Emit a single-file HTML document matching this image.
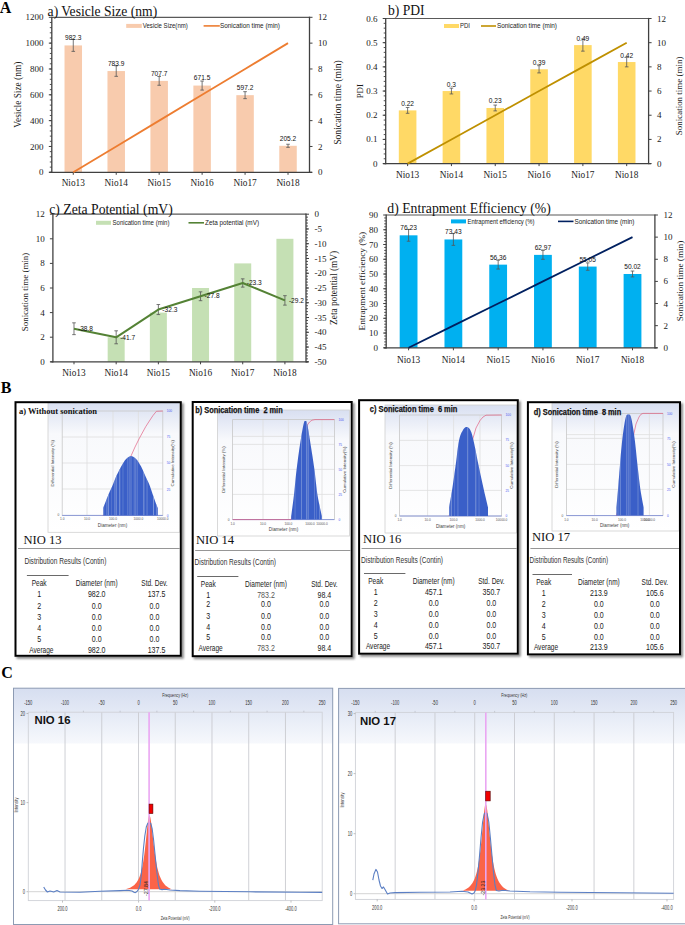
<!DOCTYPE html>
<html><head><meta charset="utf-8"><style>
html,body{margin:0;padding:0;background:#fff;}
body{width:685px;height:925px;overflow:hidden;position:relative;}
svg{position:absolute;left:0;top:0;}
</style></head><body>
<svg width="685" height="925" viewBox="0 0 685 925">
<defs>
<filter id="blur" x="-5%" y="-5%" width="110%" height="110%"><feGaussianBlur stdDeviation="1.2"/></filter>
<linearGradient id="dlsgrad" x1="0" y1="0" x2="0" y2="1">
<stop offset="0" stop-color="#d8dff1"/><stop offset="0.24" stop-color="#f8f9fc"/><stop offset="1" stop-color="#ffffff"/>
</linearGradient>
<linearGradient id="zgrad" x1="0" y1="0" x2="0" y2="1">
<stop offset="0" stop-color="#d6def0"/><stop offset="0.232" stop-color="#f6f8fc"/><stop offset="0.236" stop-color="#ffffff"/><stop offset="1" stop-color="#ffffff"/>
</linearGradient>
</defs>
<rect x="64.52" y="45.42" width="17.50" height="126.88" fill="#F8CBAD" />
<rect x="107.47" y="71.05" width="17.50" height="101.25" fill="#F8CBAD" />
<rect x="150.42" y="80.89" width="17.50" height="91.41" fill="#F8CBAD" />
<rect x="193.38" y="85.56" width="17.50" height="86.74" fill="#F8CBAD" />
<rect x="236.32" y="95.16" width="17.50" height="77.14" fill="#F8CBAD" />
<rect x="279.27" y="145.80" width="17.50" height="26.50" fill="#F8CBAD" />
<line x1="51.80" y1="17.30" x2="309.50" y2="17.30" stroke="#595959" stroke-width="1.2" />
<line x1="51.80" y1="16.70" x2="51.80" y2="172.90" stroke="#404040" stroke-width="1.3" />
<line x1="309.50" y1="16.70" x2="309.50" y2="172.90" stroke="#404040" stroke-width="1.3" />
<line x1="49.30" y1="172.30" x2="312.00" y2="172.30" stroke="#404040" stroke-width="1.3" />
<line x1="48.80" y1="172.30" x2="51.80" y2="172.30" stroke="#404040" stroke-width="1" />
<text x="43.60" y="175.36" font-size="9" font-family='"Liberation Serif", serif' fill="#222" text-anchor="end">0</text>
<line x1="48.80" y1="146.47" x2="51.80" y2="146.47" stroke="#404040" stroke-width="1" />
<text x="43.60" y="149.53" font-size="9" font-family='"Liberation Serif", serif' fill="#222" text-anchor="end">200</text>
<line x1="48.80" y1="120.63" x2="51.80" y2="120.63" stroke="#404040" stroke-width="1" />
<text x="43.60" y="123.69" font-size="9" font-family='"Liberation Serif", serif' fill="#222" text-anchor="end">400</text>
<line x1="48.80" y1="94.80" x2="51.80" y2="94.80" stroke="#404040" stroke-width="1" />
<text x="43.60" y="97.86" font-size="9" font-family='"Liberation Serif", serif' fill="#222" text-anchor="end">600</text>
<line x1="48.80" y1="68.97" x2="51.80" y2="68.97" stroke="#404040" stroke-width="1" />
<text x="43.60" y="72.03" font-size="9" font-family='"Liberation Serif", serif' fill="#222" text-anchor="end">800</text>
<line x1="48.80" y1="43.13" x2="51.80" y2="43.13" stroke="#404040" stroke-width="1" />
<text x="43.60" y="46.19" font-size="9" font-family='"Liberation Serif", serif' fill="#222" text-anchor="end">1000</text>
<line x1="48.80" y1="17.30" x2="51.80" y2="17.30" stroke="#404040" stroke-width="1" />
<text x="43.60" y="20.36" font-size="9" font-family='"Liberation Serif", serif' fill="#222" text-anchor="end">1200</text>
<line x1="49.80" y1="172.30" x2="51.80" y2="172.30" stroke="#404040" stroke-width="0.9" />
<line x1="49.80" y1="167.13" x2="51.80" y2="167.13" stroke="#404040" stroke-width="0.9" />
<line x1="49.80" y1="161.97" x2="51.80" y2="161.97" stroke="#404040" stroke-width="0.9" />
<line x1="49.80" y1="156.80" x2="51.80" y2="156.80" stroke="#404040" stroke-width="0.9" />
<line x1="49.80" y1="151.63" x2="51.80" y2="151.63" stroke="#404040" stroke-width="0.9" />
<line x1="49.80" y1="146.47" x2="51.80" y2="146.47" stroke="#404040" stroke-width="0.9" />
<line x1="49.80" y1="141.30" x2="51.80" y2="141.30" stroke="#404040" stroke-width="0.9" />
<line x1="49.80" y1="136.13" x2="51.80" y2="136.13" stroke="#404040" stroke-width="0.9" />
<line x1="49.80" y1="130.97" x2="51.80" y2="130.97" stroke="#404040" stroke-width="0.9" />
<line x1="49.80" y1="125.80" x2="51.80" y2="125.80" stroke="#404040" stroke-width="0.9" />
<line x1="49.80" y1="120.63" x2="51.80" y2="120.63" stroke="#404040" stroke-width="0.9" />
<line x1="49.80" y1="115.47" x2="51.80" y2="115.47" stroke="#404040" stroke-width="0.9" />
<line x1="49.80" y1="110.30" x2="51.80" y2="110.30" stroke="#404040" stroke-width="0.9" />
<line x1="49.80" y1="105.13" x2="51.80" y2="105.13" stroke="#404040" stroke-width="0.9" />
<line x1="49.80" y1="99.97" x2="51.80" y2="99.97" stroke="#404040" stroke-width="0.9" />
<line x1="49.80" y1="94.80" x2="51.80" y2="94.80" stroke="#404040" stroke-width="0.9" />
<line x1="49.80" y1="89.63" x2="51.80" y2="89.63" stroke="#404040" stroke-width="0.9" />
<line x1="49.80" y1="84.47" x2="51.80" y2="84.47" stroke="#404040" stroke-width="0.9" />
<line x1="49.80" y1="79.30" x2="51.80" y2="79.30" stroke="#404040" stroke-width="0.9" />
<line x1="49.80" y1="74.13" x2="51.80" y2="74.13" stroke="#404040" stroke-width="0.9" />
<line x1="49.80" y1="68.97" x2="51.80" y2="68.97" stroke="#404040" stroke-width="0.9" />
<line x1="49.80" y1="63.80" x2="51.80" y2="63.80" stroke="#404040" stroke-width="0.9" />
<line x1="49.80" y1="58.63" x2="51.80" y2="58.63" stroke="#404040" stroke-width="0.9" />
<line x1="49.80" y1="53.47" x2="51.80" y2="53.47" stroke="#404040" stroke-width="0.9" />
<line x1="49.80" y1="48.30" x2="51.80" y2="48.30" stroke="#404040" stroke-width="0.9" />
<line x1="49.80" y1="43.13" x2="51.80" y2="43.13" stroke="#404040" stroke-width="0.9" />
<line x1="49.80" y1="37.97" x2="51.80" y2="37.97" stroke="#404040" stroke-width="0.9" />
<line x1="49.80" y1="32.80" x2="51.80" y2="32.80" stroke="#404040" stroke-width="0.9" />
<line x1="49.80" y1="27.63" x2="51.80" y2="27.63" stroke="#404040" stroke-width="0.9" />
<line x1="49.80" y1="22.47" x2="51.80" y2="22.47" stroke="#404040" stroke-width="0.9" />
<line x1="309.50" y1="172.30" x2="312.50" y2="172.30" stroke="#404040" stroke-width="1" />
<text x="318.00" y="175.36" font-size="9" font-family='"Liberation Serif", serif' fill="#222">0</text>
<line x1="309.50" y1="146.47" x2="312.50" y2="146.47" stroke="#404040" stroke-width="1" />
<text x="318.00" y="149.53" font-size="9" font-family='"Liberation Serif", serif' fill="#222">2</text>
<line x1="309.50" y1="120.63" x2="312.50" y2="120.63" stroke="#404040" stroke-width="1" />
<text x="318.00" y="123.69" font-size="9" font-family='"Liberation Serif", serif' fill="#222">4</text>
<line x1="309.50" y1="94.80" x2="312.50" y2="94.80" stroke="#404040" stroke-width="1" />
<text x="318.00" y="97.86" font-size="9" font-family='"Liberation Serif", serif' fill="#222">6</text>
<line x1="309.50" y1="68.97" x2="312.50" y2="68.97" stroke="#404040" stroke-width="1" />
<text x="318.00" y="72.03" font-size="9" font-family='"Liberation Serif", serif' fill="#222">8</text>
<line x1="309.50" y1="43.13" x2="312.50" y2="43.13" stroke="#404040" stroke-width="1" />
<text x="318.00" y="46.19" font-size="9" font-family='"Liberation Serif", serif' fill="#222">10</text>
<line x1="309.50" y1="17.30" x2="312.50" y2="17.30" stroke="#404040" stroke-width="1" />
<text x="318.00" y="20.36" font-size="9" font-family='"Liberation Serif", serif' fill="#222">12</text>
<line x1="73.27" y1="172.30" x2="73.27" y2="174.80" stroke="#404040" stroke-width="1" />
<text x="73.27" y="185.80" font-size="9.3" font-family='"Liberation Serif", serif' fill="#222" text-anchor="middle">Nio13</text>
<line x1="116.22" y1="172.30" x2="116.22" y2="174.80" stroke="#404040" stroke-width="1" />
<text x="116.22" y="185.80" font-size="9.3" font-family='"Liberation Serif", serif' fill="#222" text-anchor="middle">Nio14</text>
<line x1="159.17" y1="172.30" x2="159.17" y2="174.80" stroke="#404040" stroke-width="1" />
<text x="159.17" y="185.80" font-size="9.3" font-family='"Liberation Serif", serif' fill="#222" text-anchor="middle">Nio15</text>
<line x1="202.12" y1="172.30" x2="202.12" y2="174.80" stroke="#404040" stroke-width="1" />
<text x="202.12" y="185.80" font-size="9.3" font-family='"Liberation Serif", serif' fill="#222" text-anchor="middle">Nio16</text>
<line x1="245.07" y1="172.30" x2="245.07" y2="174.80" stroke="#404040" stroke-width="1" />
<text x="245.07" y="185.80" font-size="9.3" font-family='"Liberation Serif", serif' fill="#222" text-anchor="middle">Nio17</text>
<line x1="288.02" y1="172.30" x2="288.02" y2="174.80" stroke="#404040" stroke-width="1" />
<text x="288.02" y="185.80" font-size="9.3" font-family='"Liberation Serif", serif' fill="#222" text-anchor="middle">Nio18</text>
<line x1="73.27" y1="39.48" x2="73.27" y2="51.36" stroke="#555" stroke-width="0.8" />
<line x1="71.47" y1="39.48" x2="75.07" y2="39.48" stroke="#555" stroke-width="0.8" />
<line x1="71.47" y1="51.36" x2="75.07" y2="51.36" stroke="#555" stroke-width="0.8" />
<line x1="116.22" y1="65.75" x2="116.22" y2="76.34" stroke="#555" stroke-width="0.8" />
<line x1="114.42" y1="65.75" x2="118.02" y2="65.75" stroke="#555" stroke-width="0.8" />
<line x1="114.42" y1="76.34" x2="118.02" y2="76.34" stroke="#555" stroke-width="0.8" />
<line x1="159.17" y1="76.50" x2="159.17" y2="85.28" stroke="#555" stroke-width="0.8" />
<line x1="157.37" y1="76.50" x2="160.97" y2="76.50" stroke="#555" stroke-width="0.8" />
<line x1="157.37" y1="85.28" x2="160.97" y2="85.28" stroke="#555" stroke-width="0.8" />
<line x1="202.12" y1="81.04" x2="202.12" y2="90.09" stroke="#555" stroke-width="0.8" />
<line x1="200.32" y1="81.04" x2="203.93" y2="81.04" stroke="#555" stroke-width="0.8" />
<line x1="200.32" y1="90.09" x2="203.93" y2="90.09" stroke="#555" stroke-width="0.8" />
<line x1="245.07" y1="91.67" x2="245.07" y2="98.65" stroke="#555" stroke-width="0.8" />
<line x1="243.27" y1="91.67" x2="246.88" y2="91.67" stroke="#555" stroke-width="0.8" />
<line x1="243.27" y1="98.65" x2="246.88" y2="98.65" stroke="#555" stroke-width="0.8" />
<line x1="288.02" y1="144.25" x2="288.02" y2="147.34" stroke="#555" stroke-width="0.8" />
<line x1="286.22" y1="144.25" x2="289.82" y2="144.25" stroke="#555" stroke-width="0.8" />
<line x1="286.22" y1="147.34" x2="289.82" y2="147.34" stroke="#555" stroke-width="0.8" />
<polyline points="73.27,172.30 116.22,146.47 159.17,120.63 202.12,94.80 245.07,68.97 288.02,43.13" fill="none" stroke="#ED7D31" stroke-width="1.8" stroke-linejoin="round"/>
<text x="73.27" y="40.22" font-size="6.6" font-family='"Liberation Sans", sans-serif' fill="#111" text-anchor="middle">982.3</text>
<text x="116.22" y="65.85" font-size="6.6" font-family='"Liberation Sans", sans-serif' fill="#111" text-anchor="middle">783.9</text>
<text x="159.17" y="75.69" font-size="6.6" font-family='"Liberation Sans", sans-serif' fill="#111" text-anchor="middle">707.7</text>
<text x="202.12" y="80.36" font-size="6.6" font-family='"Liberation Sans", sans-serif' fill="#111" text-anchor="middle">671.5</text>
<text x="245.07" y="89.96" font-size="6.6" font-family='"Liberation Sans", sans-serif' fill="#111" text-anchor="middle">597.2</text>
<text x="288.02" y="140.60" font-size="6.6" font-family='"Liberation Sans", sans-serif' fill="#111" text-anchor="middle">205.2</text>
<text x="47.60" y="15.90" font-size="13.6" font-family='"Liberation Serif", serif' fill="#111">a) Vesicle Size (nm)</text>
<text x="21.20" y="94.70" font-size="9.36" font-family='"Liberation Serif", serif' fill="#1a1a1a" text-anchor="middle" textLength="66" lengthAdjust="spacingAndGlyphs" transform="rotate(-90 21.20 94.70)">Vesicle Size (nm)</text>
<text x="341.00" y="102.50" font-size="9.64" font-family='"Liberation Serif", serif' fill="#1a1a1a" text-anchor="middle" textLength="84.6" lengthAdjust="spacingAndGlyphs" transform="rotate(-90 341.00 102.50)">Sonication time (min)</text>
<rect x="126.20" y="23.90" width="15.60" height="4.00" fill="#F8CBAD" />
<text x="142.80" y="28.10" font-size="6.4" font-family='"Liberation Sans", sans-serif' fill="#222" textLength="45" lengthAdjust="spacingAndGlyphs">Vesicle Size(nm)</text>
<line x1="203.60" y1="25.90" x2="219.80" y2="25.90" stroke="#ED7D31" stroke-width="1.6" />
<text x="220.00" y="28.10" font-size="6.4" font-family='"Liberation Sans", sans-serif' fill="#222" textLength="60" lengthAdjust="spacingAndGlyphs">Sonication time (min)</text>
<rect x="398.81" y="110.40" width="17.60" height="53.20" fill="#FFD966" />
<rect x="442.62" y="91.05" width="17.60" height="72.55" fill="#FFD966" />
<rect x="486.44" y="107.98" width="17.60" height="55.62" fill="#FFD966" />
<rect x="530.26" y="69.28" width="17.60" height="94.31" fill="#FFD966" />
<rect x="574.08" y="45.10" width="17.60" height="118.50" fill="#FFD966" />
<rect x="617.89" y="62.03" width="17.60" height="101.57" fill="#FFD966" />
<line x1="385.70" y1="18.50" x2="648.60" y2="18.50" stroke="#595959" stroke-width="1.2" />
<line x1="385.70" y1="17.90" x2="385.70" y2="164.20" stroke="#404040" stroke-width="1.3" />
<line x1="648.60" y1="17.90" x2="648.60" y2="164.20" stroke="#404040" stroke-width="1.3" />
<line x1="383.20" y1="163.60" x2="651.10" y2="163.60" stroke="#404040" stroke-width="1.3" />
<line x1="382.70" y1="163.60" x2="385.70" y2="163.60" stroke="#404040" stroke-width="1" />
<text x="377.50" y="166.66" font-size="9" font-family='"Liberation Serif", serif' fill="#222" text-anchor="end">0</text>
<line x1="382.70" y1="139.42" x2="385.70" y2="139.42" stroke="#404040" stroke-width="1" />
<text x="377.50" y="142.48" font-size="9" font-family='"Liberation Serif", serif' fill="#222" text-anchor="end">0.1</text>
<line x1="382.70" y1="115.23" x2="385.70" y2="115.23" stroke="#404040" stroke-width="1" />
<text x="377.50" y="118.29" font-size="9" font-family='"Liberation Serif", serif' fill="#222" text-anchor="end">0.2</text>
<line x1="382.70" y1="91.05" x2="385.70" y2="91.05" stroke="#404040" stroke-width="1" />
<text x="377.50" y="94.11" font-size="9" font-family='"Liberation Serif", serif' fill="#222" text-anchor="end">0.3</text>
<line x1="382.70" y1="66.87" x2="385.70" y2="66.87" stroke="#404040" stroke-width="1" />
<text x="377.50" y="69.93" font-size="9" font-family='"Liberation Serif", serif' fill="#222" text-anchor="end">0.4</text>
<line x1="382.70" y1="42.68" x2="385.70" y2="42.68" stroke="#404040" stroke-width="1" />
<text x="377.50" y="45.74" font-size="9" font-family='"Liberation Serif", serif' fill="#222" text-anchor="end">0.5</text>
<line x1="382.70" y1="18.50" x2="385.70" y2="18.50" stroke="#404040" stroke-width="1" />
<text x="377.50" y="21.56" font-size="9" font-family='"Liberation Serif", serif' fill="#222" text-anchor="end">0.6</text>
<line x1="383.70" y1="163.60" x2="385.70" y2="163.60" stroke="#404040" stroke-width="0.9" />
<line x1="383.70" y1="158.76" x2="385.70" y2="158.76" stroke="#404040" stroke-width="0.9" />
<line x1="383.70" y1="153.93" x2="385.70" y2="153.93" stroke="#404040" stroke-width="0.9" />
<line x1="383.70" y1="149.09" x2="385.70" y2="149.09" stroke="#404040" stroke-width="0.9" />
<line x1="383.70" y1="144.25" x2="385.70" y2="144.25" stroke="#404040" stroke-width="0.9" />
<line x1="383.70" y1="139.42" x2="385.70" y2="139.42" stroke="#404040" stroke-width="0.9" />
<line x1="383.70" y1="134.58" x2="385.70" y2="134.58" stroke="#404040" stroke-width="0.9" />
<line x1="383.70" y1="129.74" x2="385.70" y2="129.74" stroke="#404040" stroke-width="0.9" />
<line x1="383.70" y1="124.91" x2="385.70" y2="124.91" stroke="#404040" stroke-width="0.9" />
<line x1="383.70" y1="120.07" x2="385.70" y2="120.07" stroke="#404040" stroke-width="0.9" />
<line x1="383.70" y1="115.23" x2="385.70" y2="115.23" stroke="#404040" stroke-width="0.9" />
<line x1="383.70" y1="110.40" x2="385.70" y2="110.40" stroke="#404040" stroke-width="0.9" />
<line x1="383.70" y1="105.56" x2="385.70" y2="105.56" stroke="#404040" stroke-width="0.9" />
<line x1="383.70" y1="100.72" x2="385.70" y2="100.72" stroke="#404040" stroke-width="0.9" />
<line x1="383.70" y1="95.89" x2="385.70" y2="95.89" stroke="#404040" stroke-width="0.9" />
<line x1="383.70" y1="91.05" x2="385.70" y2="91.05" stroke="#404040" stroke-width="0.9" />
<line x1="383.70" y1="86.21" x2="385.70" y2="86.21" stroke="#404040" stroke-width="0.9" />
<line x1="383.70" y1="81.38" x2="385.70" y2="81.38" stroke="#404040" stroke-width="0.9" />
<line x1="383.70" y1="76.54" x2="385.70" y2="76.54" stroke="#404040" stroke-width="0.9" />
<line x1="383.70" y1="71.70" x2="385.70" y2="71.70" stroke="#404040" stroke-width="0.9" />
<line x1="383.70" y1="66.87" x2="385.70" y2="66.87" stroke="#404040" stroke-width="0.9" />
<line x1="383.70" y1="62.03" x2="385.70" y2="62.03" stroke="#404040" stroke-width="0.9" />
<line x1="383.70" y1="57.19" x2="385.70" y2="57.19" stroke="#404040" stroke-width="0.9" />
<line x1="383.70" y1="52.36" x2="385.70" y2="52.36" stroke="#404040" stroke-width="0.9" />
<line x1="383.70" y1="47.52" x2="385.70" y2="47.52" stroke="#404040" stroke-width="0.9" />
<line x1="383.70" y1="42.68" x2="385.70" y2="42.68" stroke="#404040" stroke-width="0.9" />
<line x1="383.70" y1="37.85" x2="385.70" y2="37.85" stroke="#404040" stroke-width="0.9" />
<line x1="383.70" y1="33.01" x2="385.70" y2="33.01" stroke="#404040" stroke-width="0.9" />
<line x1="383.70" y1="28.17" x2="385.70" y2="28.17" stroke="#404040" stroke-width="0.9" />
<line x1="383.70" y1="23.34" x2="385.70" y2="23.34" stroke="#404040" stroke-width="0.9" />
<line x1="648.60" y1="163.60" x2="651.60" y2="163.60" stroke="#404040" stroke-width="1" />
<text x="657.10" y="166.66" font-size="9" font-family='"Liberation Serif", serif' fill="#222">0</text>
<line x1="648.60" y1="139.42" x2="651.60" y2="139.42" stroke="#404040" stroke-width="1" />
<text x="657.10" y="142.48" font-size="9" font-family='"Liberation Serif", serif' fill="#222">2</text>
<line x1="648.60" y1="115.23" x2="651.60" y2="115.23" stroke="#404040" stroke-width="1" />
<text x="657.10" y="118.29" font-size="9" font-family='"Liberation Serif", serif' fill="#222">4</text>
<line x1="648.60" y1="91.05" x2="651.60" y2="91.05" stroke="#404040" stroke-width="1" />
<text x="657.10" y="94.11" font-size="9" font-family='"Liberation Serif", serif' fill="#222">6</text>
<line x1="648.60" y1="66.87" x2="651.60" y2="66.87" stroke="#404040" stroke-width="1" />
<text x="657.10" y="69.93" font-size="9" font-family='"Liberation Serif", serif' fill="#222">8</text>
<line x1="648.60" y1="42.68" x2="651.60" y2="42.68" stroke="#404040" stroke-width="1" />
<text x="657.10" y="45.74" font-size="9" font-family='"Liberation Serif", serif' fill="#222">10</text>
<line x1="648.60" y1="18.50" x2="651.60" y2="18.50" stroke="#404040" stroke-width="1" />
<text x="657.10" y="21.56" font-size="9" font-family='"Liberation Serif", serif' fill="#222">12</text>
<line x1="407.61" y1="163.60" x2="407.61" y2="166.10" stroke="#404040" stroke-width="1" />
<text x="407.61" y="177.50" font-size="9.3" font-family='"Liberation Serif", serif' fill="#222" text-anchor="middle">Nio13</text>
<line x1="451.43" y1="163.60" x2="451.43" y2="166.10" stroke="#404040" stroke-width="1" />
<text x="451.43" y="177.50" font-size="9.3" font-family='"Liberation Serif", serif' fill="#222" text-anchor="middle">Nio14</text>
<line x1="495.24" y1="163.60" x2="495.24" y2="166.10" stroke="#404040" stroke-width="1" />
<text x="495.24" y="177.50" font-size="9.3" font-family='"Liberation Serif", serif' fill="#222" text-anchor="middle">Nio15</text>
<line x1="539.06" y1="163.60" x2="539.06" y2="166.10" stroke="#404040" stroke-width="1" />
<text x="539.06" y="177.50" font-size="9.3" font-family='"Liberation Serif", serif' fill="#222" text-anchor="middle">Nio16</text>
<line x1="582.88" y1="163.60" x2="582.88" y2="166.10" stroke="#404040" stroke-width="1" />
<text x="582.88" y="177.50" font-size="9.3" font-family='"Liberation Serif", serif' fill="#222" text-anchor="middle">Nio17</text>
<line x1="626.69" y1="163.60" x2="626.69" y2="166.10" stroke="#404040" stroke-width="1" />
<text x="626.69" y="177.50" font-size="9.3" font-family='"Liberation Serif", serif' fill="#222" text-anchor="middle">Nio18</text>
<line x1="407.61" y1="107.49" x2="407.61" y2="113.30" stroke="#555" stroke-width="0.8" />
<line x1="405.81" y1="107.49" x2="409.41" y2="107.49" stroke="#555" stroke-width="0.8" />
<line x1="405.81" y1="113.30" x2="409.41" y2="113.30" stroke="#555" stroke-width="0.8" />
<line x1="451.43" y1="88.15" x2="451.43" y2="93.95" stroke="#555" stroke-width="0.8" />
<line x1="449.62" y1="88.15" x2="453.23" y2="88.15" stroke="#555" stroke-width="0.8" />
<line x1="449.62" y1="93.95" x2="453.23" y2="93.95" stroke="#555" stroke-width="0.8" />
<line x1="495.24" y1="105.08" x2="495.24" y2="110.88" stroke="#555" stroke-width="0.8" />
<line x1="493.44" y1="105.08" x2="497.04" y2="105.08" stroke="#555" stroke-width="0.8" />
<line x1="493.44" y1="110.88" x2="497.04" y2="110.88" stroke="#555" stroke-width="0.8" />
<line x1="539.06" y1="65.66" x2="539.06" y2="72.91" stroke="#555" stroke-width="0.8" />
<line x1="537.26" y1="65.66" x2="540.86" y2="65.66" stroke="#555" stroke-width="0.8" />
<line x1="537.26" y1="72.91" x2="540.86" y2="72.91" stroke="#555" stroke-width="0.8" />
<line x1="582.88" y1="39.06" x2="582.88" y2="51.15" stroke="#555" stroke-width="0.8" />
<line x1="581.08" y1="39.06" x2="584.67" y2="39.06" stroke="#555" stroke-width="0.8" />
<line x1="581.08" y1="51.15" x2="584.67" y2="51.15" stroke="#555" stroke-width="0.8" />
<line x1="626.69" y1="57.19" x2="626.69" y2="66.87" stroke="#555" stroke-width="0.8" />
<line x1="624.89" y1="57.19" x2="628.49" y2="57.19" stroke="#555" stroke-width="0.8" />
<line x1="624.89" y1="66.87" x2="628.49" y2="66.87" stroke="#555" stroke-width="0.8" />
<polyline points="407.61,163.60 451.43,139.42 495.24,115.23 539.06,91.05 582.88,66.87 626.69,42.68" fill="none" stroke="#BF9000" stroke-width="1.8" stroke-linejoin="round"/>
<text x="407.61" y="105.90" font-size="6.6" font-family='"Liberation Sans", sans-serif' fill="#111" text-anchor="middle">0.22</text>
<text x="451.43" y="86.55" font-size="6.6" font-family='"Liberation Sans", sans-serif' fill="#111" text-anchor="middle">0.3</text>
<text x="495.24" y="103.48" font-size="6.6" font-family='"Liberation Sans", sans-serif' fill="#111" text-anchor="middle">0.23</text>
<text x="539.06" y="64.78" font-size="6.6" font-family='"Liberation Sans", sans-serif' fill="#111" text-anchor="middle">0.39</text>
<text x="582.88" y="40.60" font-size="6.6" font-family='"Liberation Sans", sans-serif' fill="#111" text-anchor="middle">0.49</text>
<text x="626.69" y="57.53" font-size="6.6" font-family='"Liberation Sans", sans-serif' fill="#111" text-anchor="middle">0.42</text>
<text x="388.00" y="15.00" font-size="13.6" font-family='"Liberation Serif", serif' fill="#111">b) PDI</text>
<text x="362.70" y="91.20" font-size="8.87" font-family='"Liberation Serif", serif' fill="#1a1a1a" text-anchor="middle" textLength="14.3" lengthAdjust="spacingAndGlyphs" transform="rotate(-90 362.70 91.20)">PDI</text>
<text x="681.90" y="95.90" font-size="8.96" font-family='"Liberation Serif", serif' fill="#1a1a1a" text-anchor="middle" textLength="78.6" lengthAdjust="spacingAndGlyphs" transform="rotate(-90 681.90 95.90)">Sonication time (min)</text>
<rect x="444.00" y="24.00" width="15.00" height="4.00" fill="#FFD966" />
<text x="460.00" y="28.20" font-size="6.4" font-family='"Liberation Sans", sans-serif' fill="#222" textLength="10" lengthAdjust="spacingAndGlyphs">PDI</text>
<line x1="481.00" y1="26.00" x2="496.00" y2="26.00" stroke="#BF9000" stroke-width="1.6" />
<text x="497.00" y="28.20" font-size="6.4" font-family='"Liberation Sans", sans-serif' fill="#222" textLength="60" lengthAdjust="spacingAndGlyphs">Sonication time (min)</text>
<rect x="107.67" y="337.20" width="17.00" height="24.60" fill="#C5E0B4" />
<rect x="149.86" y="312.60" width="17.00" height="49.20" fill="#C5E0B4" />
<rect x="192.04" y="288.00" width="17.00" height="73.80" fill="#C5E0B4" />
<rect x="234.22" y="263.40" width="17.00" height="98.40" fill="#C5E0B4" />
<rect x="276.41" y="238.80" width="17.00" height="123.00" fill="#C5E0B4" />
<line x1="52.90" y1="214.20" x2="306.00" y2="214.20" stroke="#595959" stroke-width="1.2" />
<line x1="52.90" y1="213.60" x2="52.90" y2="362.40" stroke="#404040" stroke-width="1.3" />
<line x1="306.00" y1="213.60" x2="306.00" y2="362.40" stroke="#404040" stroke-width="1.3" />
<line x1="50.40" y1="361.80" x2="308.50" y2="361.80" stroke="#404040" stroke-width="1.3" />
<line x1="49.90" y1="361.80" x2="52.90" y2="361.80" stroke="#404040" stroke-width="1" />
<text x="44.70" y="364.86" font-size="9" font-family='"Liberation Serif", serif' fill="#222" text-anchor="end">0</text>
<line x1="49.90" y1="337.20" x2="52.90" y2="337.20" stroke="#404040" stroke-width="1" />
<text x="44.70" y="340.26" font-size="9" font-family='"Liberation Serif", serif' fill="#222" text-anchor="end">2</text>
<line x1="49.90" y1="312.60" x2="52.90" y2="312.60" stroke="#404040" stroke-width="1" />
<text x="44.70" y="315.66" font-size="9" font-family='"Liberation Serif", serif' fill="#222" text-anchor="end">4</text>
<line x1="49.90" y1="288.00" x2="52.90" y2="288.00" stroke="#404040" stroke-width="1" />
<text x="44.70" y="291.06" font-size="9" font-family='"Liberation Serif", serif' fill="#222" text-anchor="end">6</text>
<line x1="49.90" y1="263.40" x2="52.90" y2="263.40" stroke="#404040" stroke-width="1" />
<text x="44.70" y="266.46" font-size="9" font-family='"Liberation Serif", serif' fill="#222" text-anchor="end">8</text>
<line x1="49.90" y1="238.80" x2="52.90" y2="238.80" stroke="#404040" stroke-width="1" />
<text x="44.70" y="241.86" font-size="9" font-family='"Liberation Serif", serif' fill="#222" text-anchor="end">10</text>
<line x1="49.90" y1="214.20" x2="52.90" y2="214.20" stroke="#404040" stroke-width="1" />
<text x="44.70" y="217.26" font-size="9" font-family='"Liberation Serif", serif' fill="#222" text-anchor="end">12</text>
<line x1="306.00" y1="361.80" x2="309.00" y2="361.80" stroke="#404040" stroke-width="1" />
<text x="314.50" y="364.86" font-size="9" font-family='"Liberation Serif", serif' fill="#222">-50</text>
<line x1="306.00" y1="347.04" x2="309.00" y2="347.04" stroke="#404040" stroke-width="1" />
<text x="314.50" y="350.10" font-size="9" font-family='"Liberation Serif", serif' fill="#222">-45</text>
<line x1="306.00" y1="332.28" x2="309.00" y2="332.28" stroke="#404040" stroke-width="1" />
<text x="314.50" y="335.34" font-size="9" font-family='"Liberation Serif", serif' fill="#222">-40</text>
<line x1="306.00" y1="317.52" x2="309.00" y2="317.52" stroke="#404040" stroke-width="1" />
<text x="314.50" y="320.58" font-size="9" font-family='"Liberation Serif", serif' fill="#222">-35</text>
<line x1="306.00" y1="302.76" x2="309.00" y2="302.76" stroke="#404040" stroke-width="1" />
<text x="314.50" y="305.82" font-size="9" font-family='"Liberation Serif", serif' fill="#222">-30</text>
<line x1="306.00" y1="288.00" x2="309.00" y2="288.00" stroke="#404040" stroke-width="1" />
<text x="314.50" y="291.06" font-size="9" font-family='"Liberation Serif", serif' fill="#222">-25</text>
<line x1="306.00" y1="273.24" x2="309.00" y2="273.24" stroke="#404040" stroke-width="1" />
<text x="314.50" y="276.30" font-size="9" font-family='"Liberation Serif", serif' fill="#222">-20</text>
<line x1="306.00" y1="258.48" x2="309.00" y2="258.48" stroke="#404040" stroke-width="1" />
<text x="314.50" y="261.54" font-size="9" font-family='"Liberation Serif", serif' fill="#222">-15</text>
<line x1="306.00" y1="243.72" x2="309.00" y2="243.72" stroke="#404040" stroke-width="1" />
<text x="314.50" y="246.78" font-size="9" font-family='"Liberation Serif", serif' fill="#222">-10</text>
<line x1="306.00" y1="228.96" x2="309.00" y2="228.96" stroke="#404040" stroke-width="1" />
<text x="314.50" y="232.02" font-size="9" font-family='"Liberation Serif", serif' fill="#222">-5</text>
<line x1="306.00" y1="214.20" x2="309.00" y2="214.20" stroke="#404040" stroke-width="1" />
<text x="314.50" y="217.26" font-size="9" font-family='"Liberation Serif", serif' fill="#222">0</text>
<line x1="306.00" y1="361.80" x2="308.00" y2="361.80" stroke="#404040" stroke-width="0.9" />
<line x1="306.00" y1="358.85" x2="308.00" y2="358.85" stroke="#404040" stroke-width="0.9" />
<line x1="306.00" y1="355.90" x2="308.00" y2="355.90" stroke="#404040" stroke-width="0.9" />
<line x1="306.00" y1="352.94" x2="308.00" y2="352.94" stroke="#404040" stroke-width="0.9" />
<line x1="306.00" y1="349.99" x2="308.00" y2="349.99" stroke="#404040" stroke-width="0.9" />
<line x1="306.00" y1="347.04" x2="308.00" y2="347.04" stroke="#404040" stroke-width="0.9" />
<line x1="306.00" y1="344.09" x2="308.00" y2="344.09" stroke="#404040" stroke-width="0.9" />
<line x1="306.00" y1="341.14" x2="308.00" y2="341.14" stroke="#404040" stroke-width="0.9" />
<line x1="306.00" y1="338.18" x2="308.00" y2="338.18" stroke="#404040" stroke-width="0.9" />
<line x1="306.00" y1="335.23" x2="308.00" y2="335.23" stroke="#404040" stroke-width="0.9" />
<line x1="306.00" y1="332.28" x2="308.00" y2="332.28" stroke="#404040" stroke-width="0.9" />
<line x1="306.00" y1="329.33" x2="308.00" y2="329.33" stroke="#404040" stroke-width="0.9" />
<line x1="306.00" y1="326.38" x2="308.00" y2="326.38" stroke="#404040" stroke-width="0.9" />
<line x1="306.00" y1="323.42" x2="308.00" y2="323.42" stroke="#404040" stroke-width="0.9" />
<line x1="306.00" y1="320.47" x2="308.00" y2="320.47" stroke="#404040" stroke-width="0.9" />
<line x1="306.00" y1="317.52" x2="308.00" y2="317.52" stroke="#404040" stroke-width="0.9" />
<line x1="306.00" y1="314.57" x2="308.00" y2="314.57" stroke="#404040" stroke-width="0.9" />
<line x1="306.00" y1="311.62" x2="308.00" y2="311.62" stroke="#404040" stroke-width="0.9" />
<line x1="306.00" y1="308.66" x2="308.00" y2="308.66" stroke="#404040" stroke-width="0.9" />
<line x1="306.00" y1="305.71" x2="308.00" y2="305.71" stroke="#404040" stroke-width="0.9" />
<line x1="306.00" y1="302.76" x2="308.00" y2="302.76" stroke="#404040" stroke-width="0.9" />
<line x1="306.00" y1="299.81" x2="308.00" y2="299.81" stroke="#404040" stroke-width="0.9" />
<line x1="306.00" y1="296.86" x2="308.00" y2="296.86" stroke="#404040" stroke-width="0.9" />
<line x1="306.00" y1="293.90" x2="308.00" y2="293.90" stroke="#404040" stroke-width="0.9" />
<line x1="306.00" y1="290.95" x2="308.00" y2="290.95" stroke="#404040" stroke-width="0.9" />
<line x1="306.00" y1="288.00" x2="308.00" y2="288.00" stroke="#404040" stroke-width="0.9" />
<line x1="306.00" y1="285.05" x2="308.00" y2="285.05" stroke="#404040" stroke-width="0.9" />
<line x1="306.00" y1="282.10" x2="308.00" y2="282.10" stroke="#404040" stroke-width="0.9" />
<line x1="306.00" y1="279.14" x2="308.00" y2="279.14" stroke="#404040" stroke-width="0.9" />
<line x1="306.00" y1="276.19" x2="308.00" y2="276.19" stroke="#404040" stroke-width="0.9" />
<line x1="306.00" y1="273.24" x2="308.00" y2="273.24" stroke="#404040" stroke-width="0.9" />
<line x1="306.00" y1="270.29" x2="308.00" y2="270.29" stroke="#404040" stroke-width="0.9" />
<line x1="306.00" y1="267.34" x2="308.00" y2="267.34" stroke="#404040" stroke-width="0.9" />
<line x1="306.00" y1="264.38" x2="308.00" y2="264.38" stroke="#404040" stroke-width="0.9" />
<line x1="306.00" y1="261.43" x2="308.00" y2="261.43" stroke="#404040" stroke-width="0.9" />
<line x1="306.00" y1="258.48" x2="308.00" y2="258.48" stroke="#404040" stroke-width="0.9" />
<line x1="306.00" y1="255.53" x2="308.00" y2="255.53" stroke="#404040" stroke-width="0.9" />
<line x1="306.00" y1="252.58" x2="308.00" y2="252.58" stroke="#404040" stroke-width="0.9" />
<line x1="306.00" y1="249.62" x2="308.00" y2="249.62" stroke="#404040" stroke-width="0.9" />
<line x1="306.00" y1="246.67" x2="308.00" y2="246.67" stroke="#404040" stroke-width="0.9" />
<line x1="306.00" y1="243.72" x2="308.00" y2="243.72" stroke="#404040" stroke-width="0.9" />
<line x1="306.00" y1="240.77" x2="308.00" y2="240.77" stroke="#404040" stroke-width="0.9" />
<line x1="306.00" y1="237.82" x2="308.00" y2="237.82" stroke="#404040" stroke-width="0.9" />
<line x1="306.00" y1="234.86" x2="308.00" y2="234.86" stroke="#404040" stroke-width="0.9" />
<line x1="306.00" y1="231.91" x2="308.00" y2="231.91" stroke="#404040" stroke-width="0.9" />
<line x1="306.00" y1="228.96" x2="308.00" y2="228.96" stroke="#404040" stroke-width="0.9" />
<line x1="306.00" y1="226.01" x2="308.00" y2="226.01" stroke="#404040" stroke-width="0.9" />
<line x1="306.00" y1="223.06" x2="308.00" y2="223.06" stroke="#404040" stroke-width="0.9" />
<line x1="306.00" y1="220.10" x2="308.00" y2="220.10" stroke="#404040" stroke-width="0.9" />
<line x1="306.00" y1="217.15" x2="308.00" y2="217.15" stroke="#404040" stroke-width="0.9" />
<line x1="73.99" y1="361.80" x2="73.99" y2="364.30" stroke="#404040" stroke-width="1" />
<text x="73.99" y="375.50" font-size="9.3" font-family='"Liberation Serif", serif' fill="#222" text-anchor="middle">Nio13</text>
<line x1="116.17" y1="361.80" x2="116.17" y2="364.30" stroke="#404040" stroke-width="1" />
<text x="116.17" y="375.50" font-size="9.3" font-family='"Liberation Serif", serif' fill="#222" text-anchor="middle">Nio14</text>
<line x1="158.36" y1="361.80" x2="158.36" y2="364.30" stroke="#404040" stroke-width="1" />
<text x="158.36" y="375.50" font-size="9.3" font-family='"Liberation Serif", serif' fill="#222" text-anchor="middle">Nio15</text>
<line x1="200.54" y1="361.80" x2="200.54" y2="364.30" stroke="#404040" stroke-width="1" />
<text x="200.54" y="375.50" font-size="9.3" font-family='"Liberation Serif", serif' fill="#222" text-anchor="middle">Nio16</text>
<line x1="242.72" y1="361.80" x2="242.72" y2="364.30" stroke="#404040" stroke-width="1" />
<text x="242.72" y="375.50" font-size="9.3" font-family='"Liberation Serif", serif' fill="#222" text-anchor="middle">Nio17</text>
<line x1="284.91" y1="361.80" x2="284.91" y2="364.30" stroke="#404040" stroke-width="1" />
<text x="284.91" y="375.50" font-size="9.3" font-family='"Liberation Serif", serif' fill="#222" text-anchor="middle">Nio18</text>
<line x1="73.99" y1="322.83" x2="73.99" y2="334.64" stroke="#555" stroke-width="0.8" />
<line x1="72.19" y1="322.83" x2="75.79" y2="322.83" stroke="#555" stroke-width="0.8" />
<line x1="72.19" y1="334.64" x2="75.79" y2="334.64" stroke="#555" stroke-width="0.8" />
<line x1="116.17" y1="330.80" x2="116.17" y2="343.79" stroke="#555" stroke-width="0.8" />
<line x1="114.37" y1="330.80" x2="117.97" y2="330.80" stroke="#555" stroke-width="0.8" />
<line x1="114.37" y1="343.79" x2="117.97" y2="343.79" stroke="#555" stroke-width="0.8" />
<line x1="158.36" y1="304.53" x2="158.36" y2="314.57" stroke="#555" stroke-width="0.8" />
<line x1="156.56" y1="304.53" x2="160.16" y2="304.53" stroke="#555" stroke-width="0.8" />
<line x1="156.56" y1="314.57" x2="160.16" y2="314.57" stroke="#555" stroke-width="0.8" />
<line x1="200.54" y1="291.84" x2="200.54" y2="300.69" stroke="#555" stroke-width="0.8" />
<line x1="198.74" y1="291.84" x2="202.34" y2="291.84" stroke="#555" stroke-width="0.8" />
<line x1="198.74" y1="300.69" x2="202.34" y2="300.69" stroke="#555" stroke-width="0.8" />
<line x1="242.72" y1="278.85" x2="242.72" y2="287.11" stroke="#555" stroke-width="0.8" />
<line x1="240.92" y1="278.85" x2="244.53" y2="278.85" stroke="#555" stroke-width="0.8" />
<line x1="240.92" y1="287.11" x2="244.53" y2="287.11" stroke="#555" stroke-width="0.8" />
<line x1="284.91" y1="295.68" x2="284.91" y2="305.12" stroke="#555" stroke-width="0.8" />
<line x1="283.11" y1="295.68" x2="286.71" y2="295.68" stroke="#555" stroke-width="0.8" />
<line x1="283.11" y1="305.12" x2="286.71" y2="305.12" stroke="#555" stroke-width="0.8" />
<polyline points="73.99,328.74 116.17,337.30 158.36,309.55 200.54,296.27 242.72,282.98 284.91,300.40" fill="none" stroke="#548235" stroke-width="2" stroke-linejoin="round"/>
<text x="77.99" y="330.94" font-size="6.6" font-family='"Liberation Sans", sans-serif' fill="#111">-38.8</text>
<text x="120.17" y="339.50" font-size="6.6" font-family='"Liberation Sans", sans-serif' fill="#111">-41.7</text>
<text x="162.36" y="311.75" font-size="6.6" font-family='"Liberation Sans", sans-serif' fill="#111">-32.3</text>
<text x="204.54" y="298.47" font-size="6.6" font-family='"Liberation Sans", sans-serif' fill="#111">-27.8</text>
<text x="246.72" y="285.18" font-size="6.6" font-family='"Liberation Sans", sans-serif' fill="#111">-23.3</text>
<text x="288.91" y="302.60" font-size="6.6" font-family='"Liberation Sans", sans-serif' fill="#111">-29.2</text>
<text x="49.30" y="213.70" font-size="14.5" font-family='"Liberation Serif", serif' fill="#111" textLength="123.4" lengthAdjust="spacingAndGlyphs">c) Zeta Potential (mV)</text>
<text x="28.00" y="292.00" font-size="8.96" font-family='"Liberation Serif", serif' fill="#1a1a1a" text-anchor="middle" textLength="78.6" lengthAdjust="spacingAndGlyphs" transform="rotate(-90 28.00 292.00)">Sonication time (min)</text>
<text x="337.10" y="287.90" font-size="9.33" font-family='"Liberation Serif", serif' fill="#1a1a1a" text-anchor="middle" textLength="74.1" lengthAdjust="spacingAndGlyphs" transform="rotate(-90 337.10 287.90)">Zeta potential (mV)</text>
<rect x="96.00" y="220.80" width="15.00" height="4.00" fill="#C5E0B4" />
<text x="112.50" y="225.00" font-size="6.4" font-family='"Liberation Sans", sans-serif' fill="#222" textLength="57" lengthAdjust="spacingAndGlyphs">Sonication time (min)</text>
<line x1="188.50" y1="222.80" x2="204.00" y2="222.80" stroke="#548235" stroke-width="1.6" />
<text x="205.00" y="225.00" font-size="6.4" font-family='"Liberation Sans", sans-serif' fill="#222" textLength="54" lengthAdjust="spacingAndGlyphs">Zeta potential (mV)</text>
<rect x="399.69" y="235.32" width="17.80" height="112.48" fill="#00B0F0" />
<rect x="444.48" y="239.45" width="17.80" height="108.35" fill="#00B0F0" />
<rect x="489.26" y="264.64" width="17.80" height="83.16" fill="#00B0F0" />
<rect x="534.04" y="254.88" width="17.80" height="92.92" fill="#00B0F0" />
<rect x="578.82" y="266.57" width="17.80" height="81.23" fill="#00B0F0" />
<rect x="623.61" y="273.99" width="17.80" height="73.81" fill="#00B0F0" />
<line x1="386.20" y1="215.00" x2="654.90" y2="215.00" stroke="#595959" stroke-width="1.2" />
<line x1="386.20" y1="214.40" x2="386.20" y2="348.40" stroke="#404040" stroke-width="1.3" />
<line x1="654.90" y1="214.40" x2="654.90" y2="348.40" stroke="#404040" stroke-width="1.3" />
<line x1="383.70" y1="347.80" x2="657.40" y2="347.80" stroke="#404040" stroke-width="1.3" />
<line x1="383.20" y1="347.80" x2="386.20" y2="347.80" stroke="#404040" stroke-width="1" />
<text x="378.00" y="350.86" font-size="9" font-family='"Liberation Serif", serif' fill="#222" text-anchor="end">0</text>
<line x1="383.20" y1="333.04" x2="386.20" y2="333.04" stroke="#404040" stroke-width="1" />
<text x="378.00" y="336.10" font-size="9" font-family='"Liberation Serif", serif' fill="#222" text-anchor="end">10</text>
<line x1="383.20" y1="318.29" x2="386.20" y2="318.29" stroke="#404040" stroke-width="1" />
<text x="378.00" y="321.35" font-size="9" font-family='"Liberation Serif", serif' fill="#222" text-anchor="end">20</text>
<line x1="383.20" y1="303.53" x2="386.20" y2="303.53" stroke="#404040" stroke-width="1" />
<text x="378.00" y="306.59" font-size="9" font-family='"Liberation Serif", serif' fill="#222" text-anchor="end">30</text>
<line x1="383.20" y1="288.78" x2="386.20" y2="288.78" stroke="#404040" stroke-width="1" />
<text x="378.00" y="291.84" font-size="9" font-family='"Liberation Serif", serif' fill="#222" text-anchor="end">40</text>
<line x1="383.20" y1="274.02" x2="386.20" y2="274.02" stroke="#404040" stroke-width="1" />
<text x="378.00" y="277.08" font-size="9" font-family='"Liberation Serif", serif' fill="#222" text-anchor="end">50</text>
<line x1="383.20" y1="259.27" x2="386.20" y2="259.27" stroke="#404040" stroke-width="1" />
<text x="378.00" y="262.33" font-size="9" font-family='"Liberation Serif", serif' fill="#222" text-anchor="end">60</text>
<line x1="383.20" y1="244.51" x2="386.20" y2="244.51" stroke="#404040" stroke-width="1" />
<text x="378.00" y="247.57" font-size="9" font-family='"Liberation Serif", serif' fill="#222" text-anchor="end">70</text>
<line x1="383.20" y1="229.76" x2="386.20" y2="229.76" stroke="#404040" stroke-width="1" />
<text x="378.00" y="232.82" font-size="9" font-family='"Liberation Serif", serif' fill="#222" text-anchor="end">80</text>
<line x1="383.20" y1="215.00" x2="386.20" y2="215.00" stroke="#404040" stroke-width="1" />
<text x="378.00" y="218.06" font-size="9" font-family='"Liberation Serif", serif' fill="#222" text-anchor="end">90</text>
<line x1="384.20" y1="347.80" x2="386.20" y2="347.80" stroke="#404040" stroke-width="0.9" />
<line x1="384.20" y1="344.85" x2="386.20" y2="344.85" stroke="#404040" stroke-width="0.9" />
<line x1="384.20" y1="341.90" x2="386.20" y2="341.90" stroke="#404040" stroke-width="0.9" />
<line x1="384.20" y1="338.95" x2="386.20" y2="338.95" stroke="#404040" stroke-width="0.9" />
<line x1="384.20" y1="336.00" x2="386.20" y2="336.00" stroke="#404040" stroke-width="0.9" />
<line x1="384.20" y1="333.04" x2="386.20" y2="333.04" stroke="#404040" stroke-width="0.9" />
<line x1="384.20" y1="330.09" x2="386.20" y2="330.09" stroke="#404040" stroke-width="0.9" />
<line x1="384.20" y1="327.14" x2="386.20" y2="327.14" stroke="#404040" stroke-width="0.9" />
<line x1="384.20" y1="324.19" x2="386.20" y2="324.19" stroke="#404040" stroke-width="0.9" />
<line x1="384.20" y1="321.24" x2="386.20" y2="321.24" stroke="#404040" stroke-width="0.9" />
<line x1="384.20" y1="318.29" x2="386.20" y2="318.29" stroke="#404040" stroke-width="0.9" />
<line x1="384.20" y1="315.34" x2="386.20" y2="315.34" stroke="#404040" stroke-width="0.9" />
<line x1="384.20" y1="312.39" x2="386.20" y2="312.39" stroke="#404040" stroke-width="0.9" />
<line x1="384.20" y1="309.44" x2="386.20" y2="309.44" stroke="#404040" stroke-width="0.9" />
<line x1="384.20" y1="306.48" x2="386.20" y2="306.48" stroke="#404040" stroke-width="0.9" />
<line x1="384.20" y1="303.53" x2="386.20" y2="303.53" stroke="#404040" stroke-width="0.9" />
<line x1="384.20" y1="300.58" x2="386.20" y2="300.58" stroke="#404040" stroke-width="0.9" />
<line x1="384.20" y1="297.63" x2="386.20" y2="297.63" stroke="#404040" stroke-width="0.9" />
<line x1="384.20" y1="294.68" x2="386.20" y2="294.68" stroke="#404040" stroke-width="0.9" />
<line x1="384.20" y1="291.73" x2="386.20" y2="291.73" stroke="#404040" stroke-width="0.9" />
<line x1="384.20" y1="288.78" x2="386.20" y2="288.78" stroke="#404040" stroke-width="0.9" />
<line x1="384.20" y1="285.83" x2="386.20" y2="285.83" stroke="#404040" stroke-width="0.9" />
<line x1="384.20" y1="282.88" x2="386.20" y2="282.88" stroke="#404040" stroke-width="0.9" />
<line x1="384.20" y1="279.92" x2="386.20" y2="279.92" stroke="#404040" stroke-width="0.9" />
<line x1="384.20" y1="276.97" x2="386.20" y2="276.97" stroke="#404040" stroke-width="0.9" />
<line x1="384.20" y1="274.02" x2="386.20" y2="274.02" stroke="#404040" stroke-width="0.9" />
<line x1="384.20" y1="271.07" x2="386.20" y2="271.07" stroke="#404040" stroke-width="0.9" />
<line x1="384.20" y1="268.12" x2="386.20" y2="268.12" stroke="#404040" stroke-width="0.9" />
<line x1="384.20" y1="265.17" x2="386.20" y2="265.17" stroke="#404040" stroke-width="0.9" />
<line x1="384.20" y1="262.22" x2="386.20" y2="262.22" stroke="#404040" stroke-width="0.9" />
<line x1="384.20" y1="259.27" x2="386.20" y2="259.27" stroke="#404040" stroke-width="0.9" />
<line x1="384.20" y1="256.32" x2="386.20" y2="256.32" stroke="#404040" stroke-width="0.9" />
<line x1="384.20" y1="253.36" x2="386.20" y2="253.36" stroke="#404040" stroke-width="0.9" />
<line x1="384.20" y1="250.41" x2="386.20" y2="250.41" stroke="#404040" stroke-width="0.9" />
<line x1="384.20" y1="247.46" x2="386.20" y2="247.46" stroke="#404040" stroke-width="0.9" />
<line x1="384.20" y1="244.51" x2="386.20" y2="244.51" stroke="#404040" stroke-width="0.9" />
<line x1="384.20" y1="241.56" x2="386.20" y2="241.56" stroke="#404040" stroke-width="0.9" />
<line x1="384.20" y1="238.61" x2="386.20" y2="238.61" stroke="#404040" stroke-width="0.9" />
<line x1="384.20" y1="235.66" x2="386.20" y2="235.66" stroke="#404040" stroke-width="0.9" />
<line x1="384.20" y1="232.71" x2="386.20" y2="232.71" stroke="#404040" stroke-width="0.9" />
<line x1="384.20" y1="229.76" x2="386.20" y2="229.76" stroke="#404040" stroke-width="0.9" />
<line x1="384.20" y1="226.80" x2="386.20" y2="226.80" stroke="#404040" stroke-width="0.9" />
<line x1="384.20" y1="223.85" x2="386.20" y2="223.85" stroke="#404040" stroke-width="0.9" />
<line x1="384.20" y1="220.90" x2="386.20" y2="220.90" stroke="#404040" stroke-width="0.9" />
<line x1="384.20" y1="217.95" x2="386.20" y2="217.95" stroke="#404040" stroke-width="0.9" />
<line x1="654.90" y1="347.80" x2="657.90" y2="347.80" stroke="#404040" stroke-width="1" />
<text x="663.40" y="350.86" font-size="9" font-family='"Liberation Serif", serif' fill="#222">0</text>
<line x1="654.90" y1="325.67" x2="657.90" y2="325.67" stroke="#404040" stroke-width="1" />
<text x="663.40" y="328.73" font-size="9" font-family='"Liberation Serif", serif' fill="#222">2</text>
<line x1="654.90" y1="303.53" x2="657.90" y2="303.53" stroke="#404040" stroke-width="1" />
<text x="663.40" y="306.59" font-size="9" font-family='"Liberation Serif", serif' fill="#222">4</text>
<line x1="654.90" y1="281.40" x2="657.90" y2="281.40" stroke="#404040" stroke-width="1" />
<text x="663.40" y="284.46" font-size="9" font-family='"Liberation Serif", serif' fill="#222">6</text>
<line x1="654.90" y1="259.27" x2="657.90" y2="259.27" stroke="#404040" stroke-width="1" />
<text x="663.40" y="262.33" font-size="9" font-family='"Liberation Serif", serif' fill="#222">8</text>
<line x1="654.90" y1="237.13" x2="657.90" y2="237.13" stroke="#404040" stroke-width="1" />
<text x="663.40" y="240.19" font-size="9" font-family='"Liberation Serif", serif' fill="#222">10</text>
<line x1="654.90" y1="215.00" x2="657.90" y2="215.00" stroke="#404040" stroke-width="1" />
<text x="663.40" y="218.06" font-size="9" font-family='"Liberation Serif", serif' fill="#222">12</text>
<line x1="408.59" y1="347.80" x2="408.59" y2="350.30" stroke="#404040" stroke-width="1" />
<text x="408.59" y="362.50" font-size="9.3" font-family='"Liberation Serif", serif' fill="#222" text-anchor="middle">Nio13</text>
<line x1="453.38" y1="347.80" x2="453.38" y2="350.30" stroke="#404040" stroke-width="1" />
<text x="453.38" y="362.50" font-size="9.3" font-family='"Liberation Serif", serif' fill="#222" text-anchor="middle">Nio14</text>
<line x1="498.16" y1="347.80" x2="498.16" y2="350.30" stroke="#404040" stroke-width="1" />
<text x="498.16" y="362.50" font-size="9.3" font-family='"Liberation Serif", serif' fill="#222" text-anchor="middle">Nio15</text>
<line x1="542.94" y1="347.80" x2="542.94" y2="350.30" stroke="#404040" stroke-width="1" />
<text x="542.94" y="362.50" font-size="9.3" font-family='"Liberation Serif", serif' fill="#222" text-anchor="middle">Nio16</text>
<line x1="587.72" y1="347.80" x2="587.72" y2="350.30" stroke="#404040" stroke-width="1" />
<text x="587.72" y="362.50" font-size="9.3" font-family='"Liberation Serif", serif' fill="#222" text-anchor="middle">Nio17</text>
<line x1="632.51" y1="347.80" x2="632.51" y2="350.30" stroke="#404040" stroke-width="1" />
<text x="632.51" y="362.50" font-size="9.3" font-family='"Liberation Serif", serif' fill="#222" text-anchor="middle">Nio18</text>
<line x1="408.59" y1="229.42" x2="408.59" y2="241.22" stroke="#555" stroke-width="0.8" />
<line x1="406.79" y1="229.42" x2="410.39" y2="229.42" stroke="#555" stroke-width="0.8" />
<line x1="406.79" y1="241.22" x2="410.39" y2="241.22" stroke="#555" stroke-width="0.8" />
<line x1="453.38" y1="233.55" x2="453.38" y2="245.35" stroke="#555" stroke-width="0.8" />
<line x1="451.57" y1="233.55" x2="455.18" y2="233.55" stroke="#555" stroke-width="0.8" />
<line x1="451.57" y1="245.35" x2="455.18" y2="245.35" stroke="#555" stroke-width="0.8" />
<line x1="498.16" y1="260.21" x2="498.16" y2="269.06" stroke="#555" stroke-width="0.8" />
<line x1="496.36" y1="260.21" x2="499.96" y2="260.21" stroke="#555" stroke-width="0.8" />
<line x1="496.36" y1="269.06" x2="499.96" y2="269.06" stroke="#555" stroke-width="0.8" />
<line x1="542.94" y1="250.46" x2="542.94" y2="259.31" stroke="#555" stroke-width="0.8" />
<line x1="541.14" y1="250.46" x2="544.74" y2="250.46" stroke="#555" stroke-width="0.8" />
<line x1="541.14" y1="259.31" x2="544.74" y2="259.31" stroke="#555" stroke-width="0.8" />
<line x1="587.72" y1="262.88" x2="587.72" y2="270.26" stroke="#555" stroke-width="0.8" />
<line x1="585.92" y1="262.88" x2="589.52" y2="262.88" stroke="#555" stroke-width="0.8" />
<line x1="585.92" y1="270.26" x2="589.52" y2="270.26" stroke="#555" stroke-width="0.8" />
<line x1="632.51" y1="271.04" x2="632.51" y2="276.94" stroke="#555" stroke-width="0.8" />
<line x1="630.71" y1="271.04" x2="634.31" y2="271.04" stroke="#555" stroke-width="0.8" />
<line x1="630.71" y1="276.94" x2="634.31" y2="276.94" stroke="#555" stroke-width="0.8" />
<polyline points="408.59,347.80 453.38,325.67 498.16,303.53 542.94,281.40 587.72,259.27 632.51,237.13" fill="none" stroke="#002060" stroke-width="1.8" stroke-linejoin="round"/>
<text x="408.59" y="230.32" font-size="6.6" font-family='"Liberation Sans", sans-serif' fill="#111" text-anchor="middle">76.23</text>
<text x="453.38" y="234.45" font-size="6.6" font-family='"Liberation Sans", sans-serif' fill="#111" text-anchor="middle">73.43</text>
<text x="498.16" y="259.64" font-size="6.6" font-family='"Liberation Sans", sans-serif' fill="#111" text-anchor="middle">56.36</text>
<text x="542.94" y="249.88" font-size="6.6" font-family='"Liberation Sans", sans-serif' fill="#111" text-anchor="middle">62.97</text>
<text x="587.72" y="261.57" font-size="6.6" font-family='"Liberation Sans", sans-serif' fill="#111" text-anchor="middle">55.05</text>
<text x="632.51" y="268.99" font-size="6.6" font-family='"Liberation Sans", sans-serif' fill="#111" text-anchor="middle">50.02</text>
<text x="387.30" y="213.40" font-size="14.3" font-family='"Liberation Serif", serif' fill="#111" textLength="163.5" lengthAdjust="spacingAndGlyphs">d) Entrapment Efficiency (%)</text>
<text x="364.90" y="281.20" font-size="9.26" font-family='"Liberation Serif", serif' fill="#1a1a1a" text-anchor="middle" textLength="98.6" lengthAdjust="spacingAndGlyphs" transform="rotate(-90 364.90 281.20)">Entrapment efficiency (%)</text>
<text x="682.50" y="281.00" font-size="9.17" font-family='"Liberation Serif", serif' fill="#1a1a1a" text-anchor="middle" textLength="80.5" lengthAdjust="spacingAndGlyphs" transform="rotate(-90 682.50 281.00)">Sonication time (min)</text>
<rect x="451.00" y="219.40" width="15.00" height="4.00" fill="#00B0F0" />
<text x="467.50" y="223.60" font-size="6.4" font-family='"Liberation Sans", sans-serif' fill="#222" textLength="67" lengthAdjust="spacingAndGlyphs">Entrapment efficiency (%)</text>
<line x1="558.00" y1="221.40" x2="573.50" y2="221.40" stroke="#002060" stroke-width="1.6" />
<text x="574.50" y="223.60" font-size="6.4" font-family='"Liberation Sans", sans-serif' fill="#222" textLength="60" lengthAdjust="spacingAndGlyphs">Sonication time (min)</text>
<text x="-0.30" y="12.60" font-size="16" font-family='"Liberation Serif", serif' fill="#000" font-weight="bold">A</text>
<text x="0.80" y="392.80" font-size="16" font-family='"Liberation Serif", serif' fill="#000" font-weight="bold">B</text>
<text x="1.20" y="678.30" font-size="16" font-family='"Liberation Serif", serif' fill="#000" font-weight="bold">C</text>
<rect x="16.50" y="403.20" width="167.30" height="255.60" fill="#000" opacity="0.45" filter="url(#blur)"/>
<rect x="14.50" y="401.20" width="167.30" height="255.60" fill="#fff" />
<rect x="48.00" y="402.50" width="131.70" height="129.80" fill="url(#dlsgrad)" stroke="#d0d0d0" stroke-width="0.8"/>
<line x1="87.00" y1="411.00" x2="87.00" y2="515.40" stroke="#dedede" stroke-width="0.8" />
<line x1="113.00" y1="411.00" x2="113.00" y2="515.40" stroke="#dedede" stroke-width="0.8" />
<line x1="138.40" y1="411.00" x2="138.40" y2="515.40" stroke="#dedede" stroke-width="0.8" />
<line x1="62.20" y1="437.00" x2="162.80" y2="437.00" stroke="#dedede" stroke-width="0.8" />
<line x1="62.20" y1="463.00" x2="162.80" y2="463.00" stroke="#dedede" stroke-width="0.8" />
<line x1="62.20" y1="489.00" x2="162.80" y2="489.00" stroke="#dedede" stroke-width="0.8" />
<rect x="62.20" y="411.00" width="100.60" height="104.40" fill="none" stroke="#c8c8c8" stroke-width="0.8"/>
<line x1="62.20" y1="515.40" x2="162.80" y2="515.40" stroke="#7a8ad8" stroke-width="0.8" />
<polyline points="102.90,515.40 115.00,500.00 124.00,480.00 131.00,456.00 135.00,447.00 139.50,438.00 145.80,426.50 150.00,420.00 153.00,415.50 156.40,411.30 162.80,411.00" fill="none" stroke="#e0557a" stroke-width="0.65"/>
<clipPath id="clip1"><polygon points="103.10,515.40 103.10,508.20 103.32,507.61 103.62,506.83 103.98,505.89 104.39,504.83 104.83,503.69 105.30,502.50 105.80,501.22 106.36,499.83 106.94,498.34 107.56,496.82 108.18,495.29 108.80,493.80 109.43,492.34 110.09,490.87 110.75,489.40 111.41,487.93 112.07,486.46 112.70,485.00 113.30,483.55 113.86,482.10 114.42,480.65 114.98,479.20 115.57,477.75 116.20,476.30 116.90,474.79 117.67,473.21 118.46,471.63 119.23,470.11 119.96,468.71 120.60,467.50 121.13,466.51 121.58,465.70 121.98,465.02 122.36,464.40 122.76,463.78 123.20,463.10 123.67,462.36 124.13,461.60 124.61,460.85 125.12,460.12 125.68,459.43 126.30,458.80 127.00,458.18 127.77,457.55 128.59,456.96 129.44,456.46 130.28,456.13 131.10,456.00 131.92,456.13 132.76,456.46 133.61,456.96 134.43,457.55 135.20,458.18 135.90,458.80 136.52,459.43 137.08,460.12 137.59,460.85 138.07,461.60 138.53,462.36 139.00,463.10 139.45,463.78 139.86,464.40 140.25,465.02 140.66,465.70 141.10,466.51 141.60,467.50 142.17,468.71 142.80,470.11 143.46,471.63 144.14,473.21 144.83,474.79 145.50,476.30 146.17,477.75 146.86,479.20 147.56,480.65 148.24,482.10 148.89,483.55 149.50,485.00 150.06,486.46 150.57,487.93 151.06,489.40 151.53,490.87 152.01,492.34 152.50,493.80 153.02,495.29 153.56,496.82 154.10,498.34 154.63,499.83 155.13,501.22 155.60,502.50 156.04,503.69 156.48,504.83 156.89,505.89 157.26,506.83 157.57,507.61 157.80,508.20 157.80,515.40"/></clipPath>
<polygon points="103.10,515.40 103.10,508.20 103.32,507.61 103.62,506.83 103.98,505.89 104.39,504.83 104.83,503.69 105.30,502.50 105.80,501.22 106.36,499.83 106.94,498.34 107.56,496.82 108.18,495.29 108.80,493.80 109.43,492.34 110.09,490.87 110.75,489.40 111.41,487.93 112.07,486.46 112.70,485.00 113.30,483.55 113.86,482.10 114.42,480.65 114.98,479.20 115.57,477.75 116.20,476.30 116.90,474.79 117.67,473.21 118.46,471.63 119.23,470.11 119.96,468.71 120.60,467.50 121.13,466.51 121.58,465.70 121.98,465.02 122.36,464.40 122.76,463.78 123.20,463.10 123.67,462.36 124.13,461.60 124.61,460.85 125.12,460.12 125.68,459.43 126.30,458.80 127.00,458.18 127.77,457.55 128.59,456.96 129.44,456.46 130.28,456.13 131.10,456.00 131.92,456.13 132.76,456.46 133.61,456.96 134.43,457.55 135.20,458.18 135.90,458.80 136.52,459.43 137.08,460.12 137.59,460.85 138.07,461.60 138.53,462.36 139.00,463.10 139.45,463.78 139.86,464.40 140.25,465.02 140.66,465.70 141.10,466.51 141.60,467.50 142.17,468.71 142.80,470.11 143.46,471.63 144.14,473.21 144.83,474.79 145.50,476.30 146.17,477.75 146.86,479.20 147.56,480.65 148.24,482.10 148.89,483.55 149.50,485.00 150.06,486.46 150.57,487.93 151.06,489.40 151.53,490.87 152.01,492.34 152.50,493.80 153.02,495.29 153.56,496.82 154.10,498.34 154.63,499.83 155.13,501.22 155.60,502.50 156.04,503.69 156.48,504.83 156.89,505.89 157.26,506.83 157.57,507.61 157.80,508.20 157.80,515.40" fill="#3a5fc8"/>
<g clip-path="url(#clip1)">
<line x1="103.70" y1="515.40" x2="103.70" y2="456.00" stroke="#9aaee0" stroke-width="0.82" opacity="0.85"/>
<line x1="106.91" y1="515.40" x2="106.91" y2="456.00" stroke="#9aaee0" stroke-width="0.65" opacity="0.85"/>
<line x1="108.52" y1="515.40" x2="108.52" y2="456.00" stroke="#9aaee0" stroke-width="0.73" opacity="0.85"/>
<line x1="111.73" y1="515.40" x2="111.73" y2="456.00" stroke="#9aaee0" stroke-width="0.41" opacity="0.85"/>
<line x1="114.94" y1="515.40" x2="114.94" y2="456.00" stroke="#9aaee0" stroke-width="0.78" opacity="0.85"/>
<line x1="116.55" y1="515.40" x2="116.55" y2="456.00" stroke="#9aaee0" stroke-width="0.62" opacity="0.85"/>
<line x1="119.76" y1="515.40" x2="119.76" y2="456.00" stroke="#9aaee0" stroke-width="0.87" opacity="0.85"/>
<line x1="122.97" y1="515.40" x2="122.97" y2="456.00" stroke="#9aaee0" stroke-width="0.41" opacity="0.85"/>
<line x1="127.79" y1="515.40" x2="127.79" y2="456.00" stroke="#9aaee0" stroke-width="0.51" opacity="0.85"/>
<line x1="129.40" y1="515.40" x2="129.40" y2="456.00" stroke="#9aaee0" stroke-width="0.41" opacity="0.85"/>
<line x1="131.00" y1="515.40" x2="131.00" y2="456.00" stroke="#9aaee0" stroke-width="0.62" opacity="0.85"/>
<line x1="134.21" y1="515.40" x2="134.21" y2="456.00" stroke="#9aaee0" stroke-width="0.52" opacity="0.85"/>
<line x1="135.82" y1="515.40" x2="135.82" y2="456.00" stroke="#9aaee0" stroke-width="0.63" opacity="0.85"/>
<line x1="137.43" y1="515.40" x2="137.43" y2="456.00" stroke="#9aaee0" stroke-width="0.41" opacity="0.85"/>
<line x1="143.85" y1="515.40" x2="143.85" y2="456.00" stroke="#9aaee0" stroke-width="0.90" opacity="0.85"/>
<line x1="147.06" y1="515.40" x2="147.06" y2="456.00" stroke="#9aaee0" stroke-width="0.57" opacity="0.85"/>
<line x1="153.49" y1="515.40" x2="153.49" y2="456.00" stroke="#9aaee0" stroke-width="0.82" opacity="0.85"/>
<line x1="156.70" y1="515.40" x2="156.70" y2="456.00" stroke="#9aaee0" stroke-width="0.69" opacity="0.85"/>
</g>
<text x="62.20" y="520.40" font-size="3.2" font-family='"Liberation Sans", sans-serif' fill="#555" text-anchor="middle">1.0</text>
<text x="87.00" y="520.40" font-size="3.2" font-family='"Liberation Sans", sans-serif' fill="#555" text-anchor="middle">10.0</text>
<text x="113.00" y="520.40" font-size="3.2" font-family='"Liberation Sans", sans-serif' fill="#555" text-anchor="middle">100.0</text>
<text x="138.40" y="520.40" font-size="3.2" font-family='"Liberation Sans", sans-serif' fill="#555" text-anchor="middle">1000.0</text>
<text x="162.80" y="520.40" font-size="3.2" font-family='"Liberation Sans", sans-serif' fill="#555" text-anchor="middle">10000.0</text>
<text x="112.50" y="526.90" font-size="4.6" font-family='"Liberation Sans", sans-serif' fill="#444" text-anchor="middle">Diameter (nm)</text>
<text x="166.80" y="412.20" font-size="3.2" font-family='"Liberation Sans", sans-serif' fill="#4a5af0">100</text>
<text x="166.80" y="438.30" font-size="3.2" font-family='"Liberation Sans", sans-serif' fill="#4a5af0">75</text>
<text x="166.80" y="464.40" font-size="3.2" font-family='"Liberation Sans", sans-serif' fill="#4a5af0">50</text>
<text x="166.80" y="490.50" font-size="3.2" font-family='"Liberation Sans", sans-serif' fill="#4a5af0">25</text>
<text x="166.80" y="516.60" font-size="3.2" font-family='"Liberation Sans", sans-serif' fill="#4a5af0">0</text>
<text x="59.20" y="516.40" font-size="3.2" font-family='"Liberation Sans", sans-serif' fill="#555" text-anchor="end">0</text>
<text x="54.20" y="463.20" font-size="4.4" font-family='"Liberation Sans", sans-serif' fill="#444" text-anchor="middle" transform="rotate(-90 54.20 463.20)">Differential Intensity (%)</text>
<text x="174.30" y="463.20" font-size="4.4" font-family='"Liberation Sans", sans-serif' fill="#444" text-anchor="middle" transform="rotate(-90 174.30 463.20)">Cumulative Intensity(%)</text>
<rect x="15.50" y="402.20" width="165.30" height="253.60" fill="none" stroke="#000" stroke-width="2"/>
<text x="18.90" y="414.00" font-size="8.5" font-family='"Liberation Serif", serif' fill="#111" font-weight="bold">a) Without sonication</text>
<text x="23.40" y="543.60" font-size="12.6" font-family='"Liberation Serif", serif' fill="#111">NIO 13</text>
<line x1="18.00" y1="548.50" x2="179.80" y2="548.50" stroke="#8a8a8a" stroke-width="0.9" />
<text x="24.40" y="563.50" font-size="8.6" font-family='"Liberation Sans", sans-serif' fill="#333" textLength="82" lengthAdjust="spacingAndGlyphs">Distribution Results (Contin)</text>
<line x1="26.90" y1="575.50" x2="68.60" y2="575.50" stroke="#444" stroke-width="0.8" />
<text x="39.10" y="585.80" font-size="8.6" font-family='"Liberation Sans", sans-serif' fill="#222" text-anchor="middle" textLength="14.897995" lengthAdjust="spacingAndGlyphs">Peak</text>
<text x="96.70" y="585.80" font-size="8.6" font-family='"Liberation Sans", sans-serif' fill="#222" text-anchor="middle" textLength="41.764529375" lengthAdjust="spacingAndGlyphs">Diameter (nm)</text>
<text x="154.50" y="585.80" font-size="8.6" font-family='"Liberation Sans", sans-serif' fill="#222" text-anchor="middle" textLength="26.39624875" lengthAdjust="spacingAndGlyphs">Std. Dev.</text>
<text x="39.10" y="597.00" font-size="8.6" font-family='"Liberation Sans", sans-serif' fill="#222" text-anchor="middle" textLength="3.922124062499999" lengthAdjust="spacingAndGlyphs">1</text>
<text x="96.70" y="597.00" font-size="8.6" font-family='"Liberation Sans", sans-serif' fill="#222" text-anchor="middle" textLength="17.64763" lengthAdjust="spacingAndGlyphs">982.0</text>
<text x="156.50" y="597.00" font-size="8.6" font-family='"Liberation Sans", sans-serif' fill="#222" text-anchor="middle" textLength="17.64763" lengthAdjust="spacingAndGlyphs">137.5</text>
<text x="39.10" y="608.50" font-size="8.6" font-family='"Liberation Sans", sans-serif' fill="#222" text-anchor="middle" textLength="3.922124062499999" lengthAdjust="spacingAndGlyphs">2</text>
<text x="96.70" y="608.50" font-size="8.6" font-family='"Liberation Sans", sans-serif' fill="#222" text-anchor="middle" textLength="9.803381875" lengthAdjust="spacingAndGlyphs">0.0</text>
<text x="154.50" y="608.50" font-size="8.6" font-family='"Liberation Sans", sans-serif' fill="#222" text-anchor="middle" textLength="9.803381875" lengthAdjust="spacingAndGlyphs">0.0</text>
<text x="39.10" y="619.80" font-size="8.6" font-family='"Liberation Sans", sans-serif' fill="#222" text-anchor="middle" textLength="3.922124062499999" lengthAdjust="spacingAndGlyphs">3</text>
<text x="96.70" y="619.80" font-size="8.6" font-family='"Liberation Sans", sans-serif' fill="#222" text-anchor="middle" textLength="9.803381875" lengthAdjust="spacingAndGlyphs">0.0</text>
<text x="154.50" y="619.80" font-size="8.6" font-family='"Liberation Sans", sans-serif' fill="#222" text-anchor="middle" textLength="9.803381875" lengthAdjust="spacingAndGlyphs">0.0</text>
<text x="39.10" y="631.00" font-size="8.6" font-family='"Liberation Sans", sans-serif' fill="#222" text-anchor="middle" textLength="3.922124062499999" lengthAdjust="spacingAndGlyphs">4</text>
<text x="96.70" y="631.00" font-size="8.6" font-family='"Liberation Sans", sans-serif' fill="#222" text-anchor="middle" textLength="9.803381875" lengthAdjust="spacingAndGlyphs">0.0</text>
<text x="154.50" y="631.00" font-size="8.6" font-family='"Liberation Sans", sans-serif' fill="#222" text-anchor="middle" textLength="9.803381875" lengthAdjust="spacingAndGlyphs">0.0</text>
<text x="39.10" y="641.70" font-size="8.6" font-family='"Liberation Sans", sans-serif' fill="#222" text-anchor="middle" textLength="3.922124062499999" lengthAdjust="spacingAndGlyphs">5</text>
<text x="96.70" y="641.70" font-size="8.6" font-family='"Liberation Sans", sans-serif' fill="#222" text-anchor="middle" textLength="9.803381875" lengthAdjust="spacingAndGlyphs">0.0</text>
<text x="154.50" y="641.70" font-size="8.6" font-family='"Liberation Sans", sans-serif' fill="#222" text-anchor="middle" textLength="9.803381875" lengthAdjust="spacingAndGlyphs">0.0</text>
<text x="41.40" y="653.00" font-size="8.6" font-family='"Liberation Sans", sans-serif' fill="#222" text-anchor="middle" textLength="24.227113749999997" lengthAdjust="spacingAndGlyphs">Average</text>
<text x="96.70" y="653.00" font-size="8.6" font-family='"Liberation Sans", sans-serif' fill="#222" text-anchor="middle" textLength="17.64763" lengthAdjust="spacingAndGlyphs">982.0</text>
<text x="156.50" y="653.00" font-size="8.6" font-family='"Liberation Sans", sans-serif' fill="#222" text-anchor="middle" textLength="17.64763" lengthAdjust="spacingAndGlyphs">137.5</text>
<rect x="193.70" y="403.00" width="161.00" height="256.20" fill="#000" opacity="0.45" filter="url(#blur)"/>
<rect x="191.70" y="401.00" width="161.00" height="256.20" fill="#fff" />
<rect x="217.40" y="410.00" width="132.20" height="126.00" fill="url(#dlsgrad)" stroke="#d0d0d0" stroke-width="0.8"/>
<line x1="263.00" y1="419.60" x2="263.00" y2="519.60" stroke="#dedede" stroke-width="0.8" />
<line x1="288.40" y1="419.60" x2="288.40" y2="519.60" stroke="#dedede" stroke-width="0.8" />
<line x1="322.00" y1="419.60" x2="322.00" y2="519.60" stroke="#dedede" stroke-width="0.8" />
<line x1="232.60" y1="436.40" x2="334.40" y2="436.40" stroke="#dedede" stroke-width="0.8" />
<line x1="232.60" y1="444.40" x2="334.40" y2="444.40" stroke="#dedede" stroke-width="0.8" />
<line x1="232.60" y1="469.40" x2="334.40" y2="469.40" stroke="#dedede" stroke-width="0.8" />
<line x1="232.60" y1="494.40" x2="334.40" y2="494.40" stroke="#dedede" stroke-width="0.8" />
<rect x="232.60" y="419.60" width="101.80" height="100.00" fill="none" stroke="#c8c8c8" stroke-width="0.8"/>
<line x1="232.60" y1="519.60" x2="334.40" y2="519.60" stroke="#7a8ad8" stroke-width="0.8" />
<polyline points="232.60,519.60 291.00,519.60 298.00,500.00 302.00,470.00 305.00,440.00 307.40,425.00 309.50,422.00 312.00,420.20 315.00,419.60 334.40,419.60" fill="none" stroke="#e0557a" stroke-width="0.65"/>
<clipPath id="clip2"><polygon points="291.20,519.60 291.20,516.00 291.51,513.69 291.93,510.53 292.44,506.76 292.98,502.65 293.51,498.45 294.00,494.40 294.44,490.43 294.85,486.32 295.26,482.11 295.68,477.86 296.12,473.61 296.60,469.40 297.12,465.18 297.67,460.90 298.24,456.61 298.82,452.39 299.41,448.30 300.00,444.40 300.61,440.53 301.25,436.61 301.90,432.82 302.53,429.34 303.10,426.34 303.60,424.00 304.00,422.42 304.33,421.49 304.61,421.04 304.87,420.91 305.12,420.95 305.40,421.00 305.68,420.95 305.94,420.91 306.20,421.04 306.48,421.49 306.81,422.42 307.20,424.00 307.67,426.34 308.20,429.34 308.78,432.82 309.38,436.61 309.99,440.53 310.60,444.40 311.22,448.30 311.87,452.39 312.53,456.61 313.18,460.90 313.81,465.18 314.40,469.40 314.93,473.61 315.41,477.86 315.86,482.11 316.33,486.32 316.83,490.43 317.40,494.40 318.10,498.45 318.93,502.65 319.79,506.76 320.61,510.53 321.31,513.69 321.80,516.00 321.80,519.60"/></clipPath>
<polygon points="291.20,519.60 291.20,516.00 291.51,513.69 291.93,510.53 292.44,506.76 292.98,502.65 293.51,498.45 294.00,494.40 294.44,490.43 294.85,486.32 295.26,482.11 295.68,477.86 296.12,473.61 296.60,469.40 297.12,465.18 297.67,460.90 298.24,456.61 298.82,452.39 299.41,448.30 300.00,444.40 300.61,440.53 301.25,436.61 301.90,432.82 302.53,429.34 303.10,426.34 303.60,424.00 304.00,422.42 304.33,421.49 304.61,421.04 304.87,420.91 305.12,420.95 305.40,421.00 305.68,420.95 305.94,420.91 306.20,421.04 306.48,421.49 306.81,422.42 307.20,424.00 307.67,426.34 308.20,429.34 308.78,432.82 309.38,436.61 309.99,440.53 310.60,444.40 311.22,448.30 311.87,452.39 312.53,456.61 313.18,460.90 313.81,465.18 314.40,469.40 314.93,473.61 315.41,477.86 315.86,482.11 316.33,486.32 316.83,490.43 317.40,494.40 318.10,498.45 318.93,502.65 319.79,506.76 320.61,510.53 321.31,513.69 321.80,516.00 321.80,519.60" fill="#3a5fc8"/>
<g clip-path="url(#clip2)">
<line x1="295.08" y1="519.60" x2="295.08" y2="421.00" stroke="#9aaee0" stroke-width="0.44" opacity="0.85"/>
<line x1="301.61" y1="519.60" x2="301.61" y2="421.00" stroke="#9aaee0" stroke-width="0.70" opacity="0.85"/>
<line x1="306.50" y1="519.60" x2="306.50" y2="421.00" stroke="#9aaee0" stroke-width="0.62" opacity="0.85"/>
<line x1="308.13" y1="519.60" x2="308.13" y2="421.00" stroke="#9aaee0" stroke-width="0.76" opacity="0.85"/>
<line x1="314.66" y1="519.60" x2="314.66" y2="421.00" stroke="#9aaee0" stroke-width="0.53" opacity="0.85"/>
<line x1="316.29" y1="519.60" x2="316.29" y2="421.00" stroke="#9aaee0" stroke-width="0.41" opacity="0.85"/>
<line x1="319.55" y1="519.60" x2="319.55" y2="421.00" stroke="#9aaee0" stroke-width="0.59" opacity="0.85"/>
</g>
<text x="232.60" y="524.60" font-size="3.2" font-family='"Liberation Sans", sans-serif' fill="#555" text-anchor="middle">1.0</text>
<text x="263.00" y="524.60" font-size="3.2" font-family='"Liberation Sans", sans-serif' fill="#555" text-anchor="middle">10.0</text>
<text x="288.40" y="524.60" font-size="3.2" font-family='"Liberation Sans", sans-serif' fill="#555" text-anchor="middle">100.0</text>
<text x="310.00" y="524.60" font-size="3.2" font-family='"Liberation Sans", sans-serif' fill="#555" text-anchor="middle">1000.0</text>
<text x="322.00" y="524.60" font-size="3.2" font-family='"Liberation Sans", sans-serif' fill="#555" text-anchor="middle">10000.0</text>
<text x="283.50" y="531.10" font-size="4.6" font-family='"Liberation Sans", sans-serif' fill="#444" text-anchor="middle">Diameter (nm)</text>
<text x="338.40" y="420.80" font-size="3.2" font-family='"Liberation Sans", sans-serif' fill="#4a5af0">100</text>
<text x="338.40" y="445.80" font-size="3.2" font-family='"Liberation Sans", sans-serif' fill="#4a5af0">75</text>
<text x="338.40" y="470.80" font-size="3.2" font-family='"Liberation Sans", sans-serif' fill="#4a5af0">50</text>
<text x="338.40" y="495.80" font-size="3.2" font-family='"Liberation Sans", sans-serif' fill="#4a5af0">25</text>
<text x="338.40" y="520.80" font-size="3.2" font-family='"Liberation Sans", sans-serif' fill="#4a5af0">0</text>
<text x="229.60" y="520.60" font-size="3.2" font-family='"Liberation Sans", sans-serif' fill="#555" text-anchor="end">0</text>
<text x="224.60" y="469.60" font-size="4.4" font-family='"Liberation Sans", sans-serif' fill="#444" text-anchor="middle" transform="rotate(-90 224.60 469.60)">Differential Intensity (%)</text>
<text x="345.90" y="469.60" font-size="4.4" font-family='"Liberation Sans", sans-serif' fill="#444" text-anchor="middle" transform="rotate(-90 345.90 469.60)">Cumulative Intensity(%)</text>
<rect x="192.70" y="402.00" width="159.00" height="254.20" fill="none" stroke="#000" stroke-width="2"/>
<text x="195.20" y="413.30" font-size="9" font-family='"Liberation Sans", sans-serif' fill="#111" font-weight="bold" textLength="87.5" lengthAdjust="spacingAndGlyphs" stroke="#111" stroke-width="0.25">b) Sonication time&#160; 2 min</text>
<text x="196.00" y="543.70" font-size="12.6" font-family='"Liberation Serif", serif' fill="#111">NIO 14</text>
<line x1="195.20" y1="550.50" x2="350.70" y2="550.50" stroke="#8a8a8a" stroke-width="0.9" />
<text x="194.60" y="564.80" font-size="8.6" font-family='"Liberation Sans", sans-serif' fill="#333" textLength="81.4" lengthAdjust="spacingAndGlyphs">Distribution Results (Contin)</text>
<line x1="197.20" y1="576.50" x2="238.40" y2="576.50" stroke="#444" stroke-width="0.8" />
<text x="208.30" y="587.00" font-size="8.6" font-family='"Liberation Sans", sans-serif' fill="#222" text-anchor="middle" textLength="14.897995" lengthAdjust="spacingAndGlyphs">Peak</text>
<text x="266.00" y="587.00" font-size="8.6" font-family='"Liberation Sans", sans-serif' fill="#222" text-anchor="middle" textLength="41.764529375" lengthAdjust="spacingAndGlyphs">Diameter (nm)</text>
<text x="324.40" y="587.00" font-size="8.6" font-family='"Liberation Sans", sans-serif' fill="#222" text-anchor="middle" textLength="26.39624875" lengthAdjust="spacingAndGlyphs">Std. Dev.</text>
<text x="208.30" y="598.00" font-size="8.6" font-family='"Liberation Sans", sans-serif' fill="#222" text-anchor="middle" textLength="3.922124062499999" lengthAdjust="spacingAndGlyphs">1</text>
<text x="266.00" y="598.00" font-size="8.6" font-family='"Liberation Sans", sans-serif' fill="#555" text-anchor="middle" textLength="17.64763" lengthAdjust="spacingAndGlyphs">783.2</text>
<text x="324.40" y="598.00" font-size="8.6" font-family='"Liberation Sans", sans-serif' fill="#222" text-anchor="middle" textLength="13.7255059375" lengthAdjust="spacingAndGlyphs">98.4</text>
<text x="208.30" y="607.30" font-size="8.6" font-family='"Liberation Sans", sans-serif' fill="#222" text-anchor="middle" textLength="3.922124062499999" lengthAdjust="spacingAndGlyphs">2</text>
<text x="266.00" y="607.30" font-size="8.6" font-family='"Liberation Sans", sans-serif' fill="#222" text-anchor="middle" textLength="9.803381875" lengthAdjust="spacingAndGlyphs">0.0</text>
<text x="324.40" y="607.30" font-size="8.6" font-family='"Liberation Sans", sans-serif' fill="#222" text-anchor="middle" textLength="9.803381875" lengthAdjust="spacingAndGlyphs">0.0</text>
<text x="208.30" y="619.00" font-size="8.6" font-family='"Liberation Sans", sans-serif' fill="#222" text-anchor="middle" textLength="3.922124062499999" lengthAdjust="spacingAndGlyphs">3</text>
<text x="266.00" y="619.00" font-size="8.6" font-family='"Liberation Sans", sans-serif' fill="#222" text-anchor="middle" textLength="9.803381875" lengthAdjust="spacingAndGlyphs">0.0</text>
<text x="324.40" y="619.00" font-size="8.6" font-family='"Liberation Sans", sans-serif' fill="#222" text-anchor="middle" textLength="9.803381875" lengthAdjust="spacingAndGlyphs">0.0</text>
<text x="208.30" y="629.70" font-size="8.6" font-family='"Liberation Sans", sans-serif' fill="#222" text-anchor="middle" textLength="3.922124062499999" lengthAdjust="spacingAndGlyphs">4</text>
<text x="266.00" y="629.70" font-size="8.6" font-family='"Liberation Sans", sans-serif' fill="#222" text-anchor="middle" textLength="9.803381875" lengthAdjust="spacingAndGlyphs">0.0</text>
<text x="324.40" y="629.70" font-size="8.6" font-family='"Liberation Sans", sans-serif' fill="#222" text-anchor="middle" textLength="9.803381875" lengthAdjust="spacingAndGlyphs">0.0</text>
<text x="208.30" y="640.00" font-size="8.6" font-family='"Liberation Sans", sans-serif' fill="#222" text-anchor="middle" textLength="3.922124062499999" lengthAdjust="spacingAndGlyphs">5</text>
<text x="266.00" y="640.00" font-size="8.6" font-family='"Liberation Sans", sans-serif' fill="#222" text-anchor="middle" textLength="9.803381875" lengthAdjust="spacingAndGlyphs">0.0</text>
<text x="324.40" y="640.00" font-size="8.6" font-family='"Liberation Sans", sans-serif' fill="#222" text-anchor="middle" textLength="9.803381875" lengthAdjust="spacingAndGlyphs">0.0</text>
<text x="210.60" y="650.50" font-size="8.6" font-family='"Liberation Sans", sans-serif' fill="#222" text-anchor="middle" textLength="24.227113749999997" lengthAdjust="spacingAndGlyphs">Average</text>
<text x="266.00" y="650.50" font-size="8.6" font-family='"Liberation Sans", sans-serif' fill="#555" text-anchor="middle" textLength="17.64763" lengthAdjust="spacingAndGlyphs">783.2</text>
<text x="324.40" y="650.50" font-size="8.6" font-family='"Liberation Sans", sans-serif' fill="#222" text-anchor="middle" textLength="13.7255059375" lengthAdjust="spacingAndGlyphs">98.4</text>
<rect x="360.10" y="401.20" width="160.70" height="255.50" fill="#000" opacity="0.45" filter="url(#blur)"/>
<rect x="358.10" y="399.20" width="160.70" height="255.50" fill="#fff" />
<rect x="385.00" y="405.00" width="131.40" height="128.00" fill="url(#dlsgrad)" stroke="#d0d0d0" stroke-width="0.8"/>
<line x1="427.60" y1="415.00" x2="427.60" y2="516.00" stroke="#dedede" stroke-width="0.8" />
<line x1="453.60" y1="415.00" x2="453.60" y2="516.00" stroke="#dedede" stroke-width="0.8" />
<line x1="480.00" y1="415.00" x2="480.00" y2="516.00" stroke="#dedede" stroke-width="0.8" />
<line x1="399.60" y1="440.40" x2="501.60" y2="440.40" stroke="#dedede" stroke-width="0.8" />
<line x1="399.60" y1="465.60" x2="501.60" y2="465.60" stroke="#dedede" stroke-width="0.8" />
<line x1="399.60" y1="490.40" x2="501.60" y2="490.40" stroke="#dedede" stroke-width="0.8" />
<rect x="399.60" y="415.00" width="102.00" height="101.00" fill="none" stroke="#c8c8c8" stroke-width="0.8"/>
<line x1="399.60" y1="516.00" x2="501.60" y2="516.00" stroke="#7a8ad8" stroke-width="0.8" />
<polyline points="449.00,516.00 458.00,495.00 466.00,465.00 471.00,445.00 476.00,428.00 480.00,420.50 483.00,417.00 486.00,415.20 501.60,415.00" fill="none" stroke="#e0557a" stroke-width="0.65"/>
<clipPath id="clip3"><polygon points="449.00,516.00 449.00,507.50 449.32,505.73 449.76,503.35 450.28,500.50 450.84,497.30 451.43,493.89 452.00,490.40 452.57,486.72 453.16,482.72 453.77,478.51 454.39,474.18 455.00,469.85 455.60,465.60 456.17,461.25 456.73,456.68 457.28,452.10 457.83,447.72 458.40,443.75 459.00,440.40 459.64,437.72 460.30,435.56 460.99,433.81 461.67,432.37 462.35,431.13 463.00,430.00 463.62,429.00 464.23,428.23 464.82,427.66 465.41,427.28 466.00,427.07 466.60,427.00 467.22,427.07 467.84,427.28 468.48,427.66 469.10,428.23 469.71,429.00 470.30,430.00 470.84,431.13 471.33,432.37 471.81,433.81 472.31,435.56 472.86,437.72 473.50,440.40 474.24,443.75 475.05,447.72 475.91,452.10 476.81,456.68 477.71,461.25 478.60,465.60 479.50,469.85 480.43,474.18 481.37,478.51 482.29,482.72 483.18,486.72 484.00,490.40 484.79,493.89 485.59,497.30 486.34,500.50 487.01,503.35 487.58,505.73 488.00,507.50 488.00,516.00"/></clipPath>
<polygon points="449.00,516.00 449.00,507.50 449.32,505.73 449.76,503.35 450.28,500.50 450.84,497.30 451.43,493.89 452.00,490.40 452.57,486.72 453.16,482.72 453.77,478.51 454.39,474.18 455.00,469.85 455.60,465.60 456.17,461.25 456.73,456.68 457.28,452.10 457.83,447.72 458.40,443.75 459.00,440.40 459.64,437.72 460.30,435.56 460.99,433.81 461.67,432.37 462.35,431.13 463.00,430.00 463.62,429.00 464.23,428.23 464.82,427.66 465.41,427.28 466.00,427.07 466.60,427.00 467.22,427.07 467.84,427.28 468.48,427.66 469.10,428.23 469.71,429.00 470.30,430.00 470.84,431.13 471.33,432.37 471.81,433.81 472.31,435.56 472.86,437.72 473.50,440.40 474.24,443.75 475.05,447.72 475.91,452.10 476.81,456.68 477.71,461.25 478.60,465.60 479.50,469.85 480.43,474.18 481.37,478.51 482.29,482.72 483.18,486.72 484.00,490.40 484.79,493.89 485.59,497.30 486.34,500.50 487.01,503.35 487.58,505.73 488.00,507.50 488.00,516.00" fill="#3a5fc8"/>
<g clip-path="url(#clip3)">
<line x1="449.81" y1="516.00" x2="449.81" y2="427.00" stroke="#9aaee0" stroke-width="0.67" opacity="0.85"/>
<line x1="451.44" y1="516.00" x2="451.44" y2="427.00" stroke="#9aaee0" stroke-width="0.70" opacity="0.85"/>
<line x1="454.69" y1="516.00" x2="454.69" y2="427.00" stroke="#9aaee0" stroke-width="0.41" opacity="0.85"/>
<line x1="457.94" y1="516.00" x2="457.94" y2="427.00" stroke="#9aaee0" stroke-width="0.52" opacity="0.85"/>
<line x1="467.69" y1="516.00" x2="467.69" y2="427.00" stroke="#9aaee0" stroke-width="0.72" opacity="0.85"/>
<line x1="475.81" y1="516.00" x2="475.81" y2="427.00" stroke="#9aaee0" stroke-width="0.78" opacity="0.85"/>
<line x1="479.06" y1="516.00" x2="479.06" y2="427.00" stroke="#9aaee0" stroke-width="0.42" opacity="0.85"/>
</g>
<text x="399.60" y="521.00" font-size="3.2" font-family='"Liberation Sans", sans-serif' fill="#555" text-anchor="middle">1.0</text>
<text x="427.60" y="521.00" font-size="3.2" font-family='"Liberation Sans", sans-serif' fill="#555" text-anchor="middle">10.0</text>
<text x="453.60" y="521.00" font-size="3.2" font-family='"Liberation Sans", sans-serif' fill="#555" text-anchor="middle">100.0</text>
<text x="480.00" y="521.00" font-size="3.2" font-family='"Liberation Sans", sans-serif' fill="#555" text-anchor="middle">1000.0</text>
<text x="501.60" y="521.00" font-size="3.2" font-family='"Liberation Sans", sans-serif' fill="#555" text-anchor="middle">10000.0</text>
<text x="450.60" y="527.50" font-size="4.6" font-family='"Liberation Sans", sans-serif' fill="#444" text-anchor="middle">Diameter (nm)</text>
<text x="505.60" y="416.20" font-size="3.2" font-family='"Liberation Sans", sans-serif' fill="#4a5af0">100</text>
<text x="505.60" y="441.45" font-size="3.2" font-family='"Liberation Sans", sans-serif' fill="#4a5af0">75</text>
<text x="505.60" y="466.70" font-size="3.2" font-family='"Liberation Sans", sans-serif' fill="#4a5af0">50</text>
<text x="505.60" y="491.95" font-size="3.2" font-family='"Liberation Sans", sans-serif' fill="#4a5af0">25</text>
<text x="505.60" y="517.20" font-size="3.2" font-family='"Liberation Sans", sans-serif' fill="#4a5af0">0</text>
<text x="396.60" y="517.00" font-size="3.2" font-family='"Liberation Sans", sans-serif' fill="#555" text-anchor="end">0</text>
<text x="391.60" y="465.50" font-size="4.4" font-family='"Liberation Sans", sans-serif' fill="#444" text-anchor="middle" transform="rotate(-90 391.60 465.50)">Differential Intensity (%)</text>
<text x="513.10" y="465.50" font-size="4.4" font-family='"Liberation Sans", sans-serif' fill="#444" text-anchor="middle" transform="rotate(-90 513.10 465.50)">Cumulative Intensity(%)</text>
<rect x="359.10" y="400.20" width="158.70" height="253.50" fill="none" stroke="#000" stroke-width="2"/>
<text x="369.80" y="411.80" font-size="9" font-family='"Liberation Sans", sans-serif' fill="#111" font-weight="bold" textLength="87.5" lengthAdjust="spacingAndGlyphs" stroke="#111" stroke-width="0.25">c) Sonication time&#160; 6 min</text>
<text x="363.10" y="543.00" font-size="12.6" font-family='"Liberation Serif", serif' fill="#111">NIO 16</text>
<line x1="361.60" y1="548.50" x2="516.80" y2="548.50" stroke="#8a8a8a" stroke-width="0.9" />
<text x="361.00" y="562.70" font-size="8.6" font-family='"Liberation Sans", sans-serif' fill="#333" textLength="82" lengthAdjust="spacingAndGlyphs">Distribution Results (Contin)</text>
<line x1="364.00" y1="573.50" x2="405.40" y2="573.50" stroke="#444" stroke-width="0.8" />
<text x="375.70" y="584.00" font-size="8.6" font-family='"Liberation Sans", sans-serif' fill="#222" text-anchor="middle" textLength="14.897995" lengthAdjust="spacingAndGlyphs">Peak</text>
<text x="433.70" y="584.00" font-size="8.6" font-family='"Liberation Sans", sans-serif' fill="#222" text-anchor="middle" textLength="41.764529375" lengthAdjust="spacingAndGlyphs">Diameter (nm)</text>
<text x="491.40" y="584.00" font-size="8.6" font-family='"Liberation Sans", sans-serif' fill="#222" text-anchor="middle" textLength="26.39624875" lengthAdjust="spacingAndGlyphs">Std. Dev.</text>
<text x="375.70" y="595.00" font-size="8.6" font-family='"Liberation Sans", sans-serif' fill="#222" text-anchor="middle" textLength="3.922124062499999" lengthAdjust="spacingAndGlyphs">1</text>
<text x="433.70" y="595.00" font-size="8.6" font-family='"Liberation Sans", sans-serif' fill="#222" text-anchor="middle" textLength="17.64763" lengthAdjust="spacingAndGlyphs">457.1</text>
<text x="491.40" y="595.00" font-size="8.6" font-family='"Liberation Sans", sans-serif' fill="#222" text-anchor="middle" textLength="17.64763" lengthAdjust="spacingAndGlyphs">350.7</text>
<text x="375.70" y="606.00" font-size="8.6" font-family='"Liberation Sans", sans-serif' fill="#222" text-anchor="middle" textLength="3.922124062499999" lengthAdjust="spacingAndGlyphs">2</text>
<text x="433.70" y="606.00" font-size="8.6" font-family='"Liberation Sans", sans-serif' fill="#222" text-anchor="middle" textLength="9.803381875" lengthAdjust="spacingAndGlyphs">0.0</text>
<text x="491.40" y="606.00" font-size="8.6" font-family='"Liberation Sans", sans-serif' fill="#222" text-anchor="middle" textLength="9.803381875" lengthAdjust="spacingAndGlyphs">0.0</text>
<text x="375.70" y="617.00" font-size="8.6" font-family='"Liberation Sans", sans-serif' fill="#222" text-anchor="middle" textLength="3.922124062499999" lengthAdjust="spacingAndGlyphs">3</text>
<text x="433.70" y="617.00" font-size="8.6" font-family='"Liberation Sans", sans-serif' fill="#222" text-anchor="middle" textLength="9.803381875" lengthAdjust="spacingAndGlyphs">0.0</text>
<text x="491.40" y="617.00" font-size="8.6" font-family='"Liberation Sans", sans-serif' fill="#222" text-anchor="middle" textLength="9.803381875" lengthAdjust="spacingAndGlyphs">0.0</text>
<text x="375.70" y="628.00" font-size="8.6" font-family='"Liberation Sans", sans-serif' fill="#222" text-anchor="middle" textLength="3.922124062499999" lengthAdjust="spacingAndGlyphs">4</text>
<text x="433.70" y="628.00" font-size="8.6" font-family='"Liberation Sans", sans-serif' fill="#222" text-anchor="middle" textLength="9.803381875" lengthAdjust="spacingAndGlyphs">0.0</text>
<text x="491.40" y="628.00" font-size="8.6" font-family='"Liberation Sans", sans-serif' fill="#222" text-anchor="middle" textLength="9.803381875" lengthAdjust="spacingAndGlyphs">0.0</text>
<text x="375.70" y="639.00" font-size="8.6" font-family='"Liberation Sans", sans-serif' fill="#222" text-anchor="middle" textLength="3.922124062499999" lengthAdjust="spacingAndGlyphs">5</text>
<text x="433.70" y="639.00" font-size="8.6" font-family='"Liberation Sans", sans-serif' fill="#222" text-anchor="middle" textLength="9.803381875" lengthAdjust="spacingAndGlyphs">0.0</text>
<text x="491.40" y="639.00" font-size="8.6" font-family='"Liberation Sans", sans-serif' fill="#222" text-anchor="middle" textLength="9.803381875" lengthAdjust="spacingAndGlyphs">0.0</text>
<text x="378.00" y="649.30" font-size="8.6" font-family='"Liberation Sans", sans-serif' fill="#222" text-anchor="middle" textLength="24.227113749999997" lengthAdjust="spacingAndGlyphs">Average</text>
<text x="433.70" y="649.30" font-size="8.6" font-family='"Liberation Sans", sans-serif' fill="#222" text-anchor="middle" textLength="17.64763" lengthAdjust="spacingAndGlyphs">457.1</text>
<text x="491.40" y="649.30" font-size="8.6" font-family='"Liberation Sans", sans-serif' fill="#222" text-anchor="middle" textLength="17.64763" lengthAdjust="spacingAndGlyphs">350.7</text>
<rect x="528.90" y="403.20" width="154.10" height="254.20" fill="#000" opacity="0.45" filter="url(#blur)"/>
<rect x="526.90" y="401.20" width="154.10" height="254.20" fill="#fff" />
<rect x="552.00" y="403.00" width="127.00" height="128.00" fill="url(#dlsgrad)" stroke="#d0d0d0" stroke-width="0.8"/>
<line x1="594.60" y1="413.40" x2="594.60" y2="515.60" stroke="#dedede" stroke-width="0.8" />
<line x1="622.00" y1="413.40" x2="622.00" y2="515.60" stroke="#dedede" stroke-width="0.8" />
<line x1="649.40" y1="413.40" x2="649.40" y2="515.60" stroke="#dedede" stroke-width="0.8" />
<line x1="566.40" y1="434.60" x2="663.00" y2="434.60" stroke="#dedede" stroke-width="0.8" />
<line x1="566.40" y1="438.40" x2="663.00" y2="438.40" stroke="#dedede" stroke-width="0.8" />
<line x1="566.40" y1="464.40" x2="663.00" y2="464.40" stroke="#dedede" stroke-width="0.8" />
<line x1="566.40" y1="489.40" x2="663.00" y2="489.40" stroke="#dedede" stroke-width="0.8" />
<rect x="566.40" y="413.40" width="96.60" height="102.20" fill="none" stroke="#c8c8c8" stroke-width="0.8"/>
<line x1="566.40" y1="515.60" x2="663.00" y2="515.60" stroke="#7a8ad8" stroke-width="0.8" />
<polyline points="616.40,515.60 624.00,490.00 630.00,455.00 633.60,435.00 636.00,424.00 639.00,417.00 641.00,414.20 643.00,413.40 663.00,413.40" fill="none" stroke="#e0557a" stroke-width="0.65"/>
<clipPath id="clip4"><polygon points="616.40,515.60 616.40,507.50 616.57,505.61 616.80,503.06 617.07,500.01 617.38,496.61 617.69,493.03 618.00,489.40 618.31,485.64 618.62,481.61 618.95,477.39 619.29,473.06 619.64,468.70 620.00,464.40 620.37,460.06 620.74,455.60 621.12,451.11 621.53,446.69 621.95,442.42 622.40,438.40 622.89,434.48 623.42,430.56 623.97,426.80 624.53,423.35 625.08,420.36 625.60,418.00 626.09,416.34 626.56,415.29 627.02,414.70 627.48,414.44 627.94,414.39 628.40,414.40 628.86,414.39 629.31,414.44 629.76,414.70 630.22,415.29 630.70,416.34 631.20,418.00 631.74,420.36 632.31,423.35 632.90,426.80 633.49,430.56 634.06,434.48 634.60,438.40 635.10,442.42 635.57,446.69 636.03,451.11 636.47,455.60 636.93,460.06 637.40,464.40 637.89,468.70 638.38,473.06 638.87,477.39 639.38,481.61 639.89,485.64 640.40,489.40 640.96,493.03 641.57,496.61 642.19,500.01 642.76,503.06 643.25,505.61 643.60,507.50 643.60,515.60"/></clipPath>
<polygon points="616.40,515.60 616.40,507.50 616.57,505.61 616.80,503.06 617.07,500.01 617.38,496.61 617.69,493.03 618.00,489.40 618.31,485.64 618.62,481.61 618.95,477.39 619.29,473.06 619.64,468.70 620.00,464.40 620.37,460.06 620.74,455.60 621.12,451.11 621.53,446.69 621.95,442.42 622.40,438.40 622.89,434.48 623.42,430.56 623.97,426.80 624.53,423.35 625.08,420.36 625.60,418.00 626.09,416.34 626.56,415.29 627.02,414.70 627.48,414.44 627.94,414.39 628.40,414.40 628.86,414.39 629.31,414.44 629.76,414.70 630.22,415.29 630.70,416.34 631.20,418.00 631.74,420.36 632.31,423.35 632.90,426.80 633.49,430.56 634.06,434.48 634.60,438.40 635.10,442.42 635.57,446.69 636.03,451.11 636.47,455.60 636.93,460.06 637.40,464.40 637.89,468.70 638.38,473.06 638.87,477.39 639.38,481.61 639.89,485.64 640.40,489.40 640.96,493.03 641.57,496.61 642.19,500.01 642.76,503.06 643.25,505.61 643.60,507.50 643.60,515.60" fill="#3a5fc8"/>
<g clip-path="url(#clip4)">
<line x1="617.20" y1="515.60" x2="617.20" y2="414.40" stroke="#9aaee0" stroke-width="0.45" opacity="0.85"/>
<line x1="618.80" y1="515.60" x2="618.80" y2="414.40" stroke="#9aaee0" stroke-width="0.48" opacity="0.85"/>
<line x1="620.40" y1="515.60" x2="620.40" y2="414.40" stroke="#9aaee0" stroke-width="0.60" opacity="0.85"/>
<line x1="626.80" y1="515.60" x2="626.80" y2="414.40" stroke="#9aaee0" stroke-width="0.67" opacity="0.85"/>
<line x1="628.40" y1="515.60" x2="628.40" y2="414.40" stroke="#9aaee0" stroke-width="0.49" opacity="0.85"/>
<line x1="630.00" y1="515.60" x2="630.00" y2="414.40" stroke="#9aaee0" stroke-width="0.51" opacity="0.85"/>
<line x1="638.00" y1="515.60" x2="638.00" y2="414.40" stroke="#9aaee0" stroke-width="0.55" opacity="0.85"/>
</g>
<text x="566.40" y="520.60" font-size="3.2" font-family='"Liberation Sans", sans-serif' fill="#555" text-anchor="middle">1.0</text>
<text x="594.60" y="520.60" font-size="3.2" font-family='"Liberation Sans", sans-serif' fill="#555" text-anchor="middle">10.0</text>
<text x="622.00" y="520.60" font-size="3.2" font-family='"Liberation Sans", sans-serif' fill="#555" text-anchor="middle">100.0</text>
<text x="645.00" y="520.60" font-size="3.2" font-family='"Liberation Sans", sans-serif' fill="#555" text-anchor="middle">1000.0</text>
<text x="649.40" y="520.60" font-size="3.2" font-family='"Liberation Sans", sans-serif' fill="#555" text-anchor="middle">10000.0</text>
<text x="614.70" y="527.10" font-size="4.6" font-family='"Liberation Sans", sans-serif' fill="#444" text-anchor="middle">Diameter (nm)</text>
<text x="667.00" y="414.60" font-size="3.2" font-family='"Liberation Sans", sans-serif' fill="#4a5af0">100</text>
<text x="667.00" y="440.15" font-size="3.2" font-family='"Liberation Sans", sans-serif' fill="#4a5af0">75</text>
<text x="667.00" y="465.70" font-size="3.2" font-family='"Liberation Sans", sans-serif' fill="#4a5af0">50</text>
<text x="667.00" y="491.25" font-size="3.2" font-family='"Liberation Sans", sans-serif' fill="#4a5af0">25</text>
<text x="667.00" y="516.80" font-size="3.2" font-family='"Liberation Sans", sans-serif' fill="#4a5af0">0</text>
<text x="563.40" y="516.60" font-size="3.2" font-family='"Liberation Sans", sans-serif' fill="#555" text-anchor="end">0</text>
<text x="558.40" y="464.50" font-size="4.4" font-family='"Liberation Sans", sans-serif' fill="#444" text-anchor="middle" transform="rotate(-90 558.40 464.50)">Differential Intensity (%)</text>
<text x="674.50" y="464.50" font-size="4.4" font-family='"Liberation Sans", sans-serif' fill="#444" text-anchor="middle" transform="rotate(-90 674.50 464.50)">Cumulative Intensity(%)</text>
<rect x="527.90" y="402.20" width="152.10" height="252.20" fill="none" stroke="#000" stroke-width="2"/>
<text x="533.70" y="414.90" font-size="9" font-family='"Liberation Sans", sans-serif' fill="#111" font-weight="bold" textLength="87.5" lengthAdjust="spacingAndGlyphs" stroke="#111" stroke-width="0.25">d) Sonication time&#160; 8 min</text>
<text x="532.00" y="541.20" font-size="12.6" font-family='"Liberation Serif", serif' fill="#111">NIO 17</text>
<line x1="530.40" y1="548.50" x2="679.00" y2="548.50" stroke="#8a8a8a" stroke-width="0.9" />
<text x="529.60" y="562.60" font-size="8.6" font-family='"Liberation Sans", sans-serif' fill="#333" textLength="78.5" lengthAdjust="spacingAndGlyphs">Distribution Results (Contin)</text>
<line x1="532.50" y1="574.50" x2="572.00" y2="574.50" stroke="#444" stroke-width="0.8" />
<text x="543.70" y="584.50" font-size="8.6" font-family='"Liberation Sans", sans-serif' fill="#222" text-anchor="middle" textLength="14.897995" lengthAdjust="spacingAndGlyphs">Peak</text>
<text x="598.90" y="584.50" font-size="8.6" font-family='"Liberation Sans", sans-serif' fill="#222" text-anchor="middle" textLength="41.764529375" lengthAdjust="spacingAndGlyphs">Diameter (nm)</text>
<text x="654.80" y="584.50" font-size="8.6" font-family='"Liberation Sans", sans-serif' fill="#222" text-anchor="middle" textLength="26.39624875" lengthAdjust="spacingAndGlyphs">Std. Dev.</text>
<text x="543.70" y="596.00" font-size="8.6" font-family='"Liberation Sans", sans-serif' fill="#222" text-anchor="middle" textLength="3.922124062499999" lengthAdjust="spacingAndGlyphs">1</text>
<text x="598.90" y="596.00" font-size="8.6" font-family='"Liberation Sans", sans-serif' fill="#222" text-anchor="middle" textLength="17.64763" lengthAdjust="spacingAndGlyphs">213.9</text>
<text x="654.80" y="596.00" font-size="8.6" font-family='"Liberation Sans", sans-serif' fill="#222" text-anchor="middle" textLength="17.64763" lengthAdjust="spacingAndGlyphs">105.6</text>
<text x="543.70" y="606.50" font-size="8.6" font-family='"Liberation Sans", sans-serif' fill="#222" text-anchor="middle" textLength="3.922124062499999" lengthAdjust="spacingAndGlyphs">2</text>
<text x="598.90" y="606.50" font-size="8.6" font-family='"Liberation Sans", sans-serif' fill="#222" text-anchor="middle" textLength="9.803381875" lengthAdjust="spacingAndGlyphs">0.0</text>
<text x="654.80" y="606.50" font-size="8.6" font-family='"Liberation Sans", sans-serif' fill="#222" text-anchor="middle" textLength="9.803381875" lengthAdjust="spacingAndGlyphs">0.0</text>
<text x="543.70" y="618.00" font-size="8.6" font-family='"Liberation Sans", sans-serif' fill="#222" text-anchor="middle" textLength="3.922124062499999" lengthAdjust="spacingAndGlyphs">3</text>
<text x="598.90" y="618.00" font-size="8.6" font-family='"Liberation Sans", sans-serif' fill="#222" text-anchor="middle" textLength="9.803381875" lengthAdjust="spacingAndGlyphs">0.0</text>
<text x="654.80" y="618.00" font-size="8.6" font-family='"Liberation Sans", sans-serif' fill="#222" text-anchor="middle" textLength="9.803381875" lengthAdjust="spacingAndGlyphs">0.0</text>
<text x="543.70" y="629.00" font-size="8.6" font-family='"Liberation Sans", sans-serif' fill="#222" text-anchor="middle" textLength="3.922124062499999" lengthAdjust="spacingAndGlyphs">4</text>
<text x="598.90" y="629.00" font-size="8.6" font-family='"Liberation Sans", sans-serif' fill="#222" text-anchor="middle" textLength="9.803381875" lengthAdjust="spacingAndGlyphs">0.0</text>
<text x="654.80" y="629.00" font-size="8.6" font-family='"Liberation Sans", sans-serif' fill="#222" text-anchor="middle" textLength="9.803381875" lengthAdjust="spacingAndGlyphs">0.0</text>
<text x="543.70" y="639.50" font-size="8.6" font-family='"Liberation Sans", sans-serif' fill="#222" text-anchor="middle" textLength="3.922124062499999" lengthAdjust="spacingAndGlyphs">5</text>
<text x="598.90" y="639.50" font-size="8.6" font-family='"Liberation Sans", sans-serif' fill="#222" text-anchor="middle" textLength="9.803381875" lengthAdjust="spacingAndGlyphs">0.0</text>
<text x="654.80" y="639.50" font-size="8.6" font-family='"Liberation Sans", sans-serif' fill="#222" text-anchor="middle" textLength="9.803381875" lengthAdjust="spacingAndGlyphs">0.0</text>
<text x="546.00" y="650.00" font-size="8.6" font-family='"Liberation Sans", sans-serif' fill="#222" text-anchor="middle" textLength="24.227113749999997" lengthAdjust="spacingAndGlyphs">Average</text>
<text x="598.90" y="650.00" font-size="8.6" font-family='"Liberation Sans", sans-serif' fill="#222" text-anchor="middle" textLength="17.64763" lengthAdjust="spacingAndGlyphs">213.9</text>
<text x="654.80" y="650.00" font-size="8.6" font-family='"Liberation Sans", sans-serif' fill="#222" text-anchor="middle" textLength="17.64763" lengthAdjust="spacingAndGlyphs">105.6</text>
<rect x="13.50" y="688.20" width="319.20" height="236.30" fill="url(#zgrad)" stroke="#8d9bb3" stroke-width="1"/>
<line x1="65.04" y1="712.20" x2="65.04" y2="900.60" stroke="#c9cbd0" stroke-width="0.9" />
<line x1="101.77" y1="712.20" x2="101.77" y2="900.60" stroke="#c9cbd0" stroke-width="0.9" />
<line x1="138.51" y1="712.20" x2="138.51" y2="900.60" stroke="#c9cbd0" stroke-width="0.9" />
<line x1="175.25" y1="712.20" x2="175.25" y2="900.60" stroke="#c9cbd0" stroke-width="0.9" />
<line x1="211.99" y1="712.20" x2="211.99" y2="900.60" stroke="#c9cbd0" stroke-width="0.9" />
<line x1="248.72" y1="712.20" x2="248.72" y2="900.60" stroke="#c9cbd0" stroke-width="0.9" />
<line x1="285.46" y1="712.20" x2="285.46" y2="900.60" stroke="#c9cbd0" stroke-width="0.9" />
<rect x="28.30" y="712.20" width="293.90" height="188.40" fill="none" stroke="#cfd2d8" stroke-width="0.9"/>
<line x1="46.67" y1="710.70" x2="46.67" y2="712.20" stroke="#b0b4bc" stroke-width="0.6" />
<line x1="83.41" y1="710.70" x2="83.41" y2="712.20" stroke="#b0b4bc" stroke-width="0.6" />
<line x1="120.14" y1="710.70" x2="120.14" y2="712.20" stroke="#b0b4bc" stroke-width="0.6" />
<line x1="156.88" y1="710.70" x2="156.88" y2="712.20" stroke="#b0b4bc" stroke-width="0.6" />
<line x1="193.62" y1="710.70" x2="193.62" y2="712.20" stroke="#b0b4bc" stroke-width="0.6" />
<line x1="230.36" y1="710.70" x2="230.36" y2="712.20" stroke="#b0b4bc" stroke-width="0.6" />
<line x1="267.09" y1="710.70" x2="267.09" y2="712.20" stroke="#b0b4bc" stroke-width="0.6" />
<line x1="303.83" y1="710.70" x2="303.83" y2="712.20" stroke="#b0b4bc" stroke-width="0.6" />
<text x="28.30" y="705.20" font-size="6.8" font-family='"Liberation Sans", sans-serif' fill="#333" text-anchor="middle" textLength="8.166374999999999" lengthAdjust="spacingAndGlyphs">-150</text>
<text x="65.04" y="705.20" font-size="6.8" font-family='"Liberation Sans", sans-serif' fill="#333" text-anchor="middle" textLength="8.166374999999999" lengthAdjust="spacingAndGlyphs">-100</text>
<text x="101.77" y="705.20" font-size="6.8" font-family='"Liberation Sans", sans-serif' fill="#333" text-anchor="middle" textLength="5.89719375" lengthAdjust="spacingAndGlyphs">-50</text>
<text x="138.51" y="705.20" font-size="6.8" font-family='"Liberation Sans", sans-serif' fill="#333" text-anchor="middle" textLength="2.26918125" lengthAdjust="spacingAndGlyphs">0</text>
<text x="175.25" y="705.20" font-size="6.8" font-family='"Liberation Sans", sans-serif' fill="#333" text-anchor="middle" textLength="4.5383625" lengthAdjust="spacingAndGlyphs">50</text>
<text x="211.99" y="705.20" font-size="6.8" font-family='"Liberation Sans", sans-serif' fill="#333" text-anchor="middle" textLength="6.807543749999999" lengthAdjust="spacingAndGlyphs">100</text>
<text x="248.72" y="705.20" font-size="6.8" font-family='"Liberation Sans", sans-serif' fill="#333" text-anchor="middle" textLength="6.807543749999999" lengthAdjust="spacingAndGlyphs">150</text>
<text x="285.46" y="705.20" font-size="6.8" font-family='"Liberation Sans", sans-serif' fill="#333" text-anchor="middle" textLength="6.807543749999999" lengthAdjust="spacingAndGlyphs">200</text>
<text x="322.20" y="705.20" font-size="6.8" font-family='"Liberation Sans", sans-serif' fill="#333" text-anchor="middle" textLength="6.807543749999999" lengthAdjust="spacingAndGlyphs">250</text>
<text x="175.20" y="697.00" font-size="5.6" font-family='"Liberation Sans", sans-serif' fill="#333" text-anchor="middle" textLength="26" lengthAdjust="spacingAndGlyphs">Frequency (Hz)</text>
<text x="25.10" y="715.70" font-size="6.8" font-family='"Liberation Sans", sans-serif' fill="#333" text-anchor="end" textLength="4.5383625" lengthAdjust="spacingAndGlyphs">20</text>
<line x1="26.50" y1="713.50" x2="28.30" y2="713.50" stroke="#999" stroke-width="0.6" />
<text x="25.10" y="804.80" font-size="6.8" font-family='"Liberation Sans", sans-serif' fill="#333" text-anchor="end" textLength="4.5383625" lengthAdjust="spacingAndGlyphs">10</text>
<line x1="26.50" y1="802.60" x2="28.30" y2="802.60" stroke="#999" stroke-width="0.6" />
<text x="25.10" y="893.90" font-size="6.8" font-family='"Liberation Sans", sans-serif' fill="#333" text-anchor="end" textLength="2.26918125" lengthAdjust="spacingAndGlyphs">0</text>
<line x1="26.50" y1="891.70" x2="28.30" y2="891.70" stroke="#999" stroke-width="0.6" />
<line x1="28.30" y1="891.70" x2="322.20" y2="891.70" stroke="#d0d0d0" stroke-width="0.9" />
<text x="62.50" y="910.60" font-size="6.8" font-family='"Liberation Sans", sans-serif' fill="#333" text-anchor="middle" textLength="10.210199999999999" lengthAdjust="spacingAndGlyphs">200.0</text>
<line x1="62.50" y1="900.60" x2="62.50" y2="902.60" stroke="#999" stroke-width="0.6" />
<text x="138.60" y="910.60" font-size="6.8" font-family='"Liberation Sans", sans-serif' fill="#333" text-anchor="middle" textLength="5.6718375" lengthAdjust="spacingAndGlyphs">0.0</text>
<line x1="138.60" y1="900.60" x2="138.60" y2="902.60" stroke="#999" stroke-width="0.6" />
<text x="214.80" y="910.60" font-size="6.8" font-family='"Liberation Sans", sans-serif' fill="#333" text-anchor="middle" textLength="11.56903125" lengthAdjust="spacingAndGlyphs">-200.0</text>
<line x1="214.80" y1="900.60" x2="214.80" y2="902.60" stroke="#999" stroke-width="0.6" />
<text x="291.00" y="910.60" font-size="6.8" font-family='"Liberation Sans", sans-serif' fill="#333" text-anchor="middle" textLength="11.56903125" lengthAdjust="spacingAndGlyphs">-400.0</text>
<line x1="291.00" y1="900.60" x2="291.00" y2="902.60" stroke="#999" stroke-width="0.6" />
<text x="175.20" y="919.60" font-size="5.6" font-family='"Liberation Sans", sans-serif' fill="#333" text-anchor="middle" textLength="29" lengthAdjust="spacingAndGlyphs">Zeta Potential (mV)</text>
<text x="17.80" y="805.00" font-size="5.2" font-family='"Liberation Sans", sans-serif' fill="#333" text-anchor="middle" textLength="15" lengthAdjust="spacingAndGlyphs" transform="rotate(-90 17.80 805.00)">Intensity</text>
<polygon points="125.50,889.30 125.50,889.30 126.28,889.09 127.05,888.86 127.83,888.60 128.60,888.32 129.38,888.00 130.15,887.65 130.93,887.26 131.70,886.83 132.47,886.33 133.25,885.78 134.03,885.15 134.80,884.42 135.57,883.60 136.35,882.64 137.12,881.54 137.90,880.25 138.68,878.73 139.45,876.95 140.22,874.83 141.00,872.31 141.78,869.29 142.55,865.66 143.32,861.31 144.10,856.12 144.88,850.02 145.65,843.04 146.43,835.42 147.20,827.74 147.97,821.01 148.75,816.49 149.53,815.24 150.30,817.18 151.07,821.66 151.85,827.84 152.62,834.79 153.40,841.77 154.18,848.31 154.95,854.17 155.72,859.29 156.50,863.69 157.28,867.44 158.05,870.62 158.82,873.33 159.60,875.63 160.38,877.60 161.15,879.29 161.93,880.75 162.70,882.01 163.47,883.10 164.25,884.06 165.03,884.90 165.80,885.64 166.57,886.29 167.35,886.87 168.12,887.39 168.90,887.86 169.68,888.27 170.45,888.65 171.22,888.99 172.00,889.30 172.00,889.30" fill="#fb6448"/>
<polyline points="43.70,887.00 45.50,890.00 47.40,892.00 50.00,891.00 52.00,891.50 53.70,892.00 57.00,890.50 60.00,892.00 80.00,892.30 100.00,891.30 120.00,890.60 128.00,890.30 132.00,891.00 134.00,892.30 135.30,892.60 137.00,891.50 138.50,889.30 140.00,885.00 141.30,875.00 142.30,862.00 143.50,848.00 144.80,836.00 146.30,827.00 147.80,823.30 149.40,822.70 150.80,823.50 152.20,829.00 153.60,840.00 154.80,852.00 156.00,864.00 157.30,876.00 158.50,885.00 159.60,889.00 162.00,889.60 165.00,889.30 170.00,890.00 180.00,890.60 200.00,891.20 250.00,891.80 300.00,892.20 322.20,892.40" fill="none" stroke="#5b7fc4" stroke-width="1.1" stroke-linejoin="round"/>
<line x1="149.10" y1="712.20" x2="149.10" y2="900.60" stroke="#eaa6f2" stroke-width="1.6" />
<rect x="149.10" y="804.10" width="3.80" height="9.40" fill="#f00000" stroke="#500" stroke-width="0.6"/>
<text x="148.30" y="888.50" font-size="5.2" font-family='"Liberation Sans", sans-serif' fill="#222" text-anchor="middle" textLength="15" lengthAdjust="spacingAndGlyphs" transform="rotate(-90 148.30 888.50)">-27.84</text>
<text x="34.50" y="724.20" font-size="11.8" font-family='"Liberation Sans", sans-serif' fill="#111" font-weight="bold" textLength="36" lengthAdjust="spacingAndGlyphs">NIO 16</text>
<rect x="338.60" y="688.40" width="347.40" height="235.40" fill="url(#zgrad)" stroke="#8d9bb3" stroke-width="1"/>
<line x1="395.17" y1="712.40" x2="395.17" y2="899.40" stroke="#c9cbd0" stroke-width="0.9" />
<line x1="434.95" y1="712.40" x2="434.95" y2="899.40" stroke="#c9cbd0" stroke-width="0.9" />
<line x1="474.73" y1="712.40" x2="474.73" y2="899.40" stroke="#c9cbd0" stroke-width="0.9" />
<line x1="514.50" y1="712.40" x2="514.50" y2="899.40" stroke="#c9cbd0" stroke-width="0.9" />
<line x1="554.27" y1="712.40" x2="554.27" y2="899.40" stroke="#c9cbd0" stroke-width="0.9" />
<line x1="594.05" y1="712.40" x2="594.05" y2="899.40" stroke="#c9cbd0" stroke-width="0.9" />
<line x1="633.83" y1="712.40" x2="633.83" y2="899.40" stroke="#c9cbd0" stroke-width="0.9" />
<rect x="355.40" y="712.40" width="318.20" height="187.00" fill="none" stroke="#cfd2d8" stroke-width="0.9"/>
<line x1="375.29" y1="710.90" x2="375.29" y2="712.40" stroke="#b0b4bc" stroke-width="0.6" />
<line x1="415.06" y1="710.90" x2="415.06" y2="712.40" stroke="#b0b4bc" stroke-width="0.6" />
<line x1="454.84" y1="710.90" x2="454.84" y2="712.40" stroke="#b0b4bc" stroke-width="0.6" />
<line x1="494.61" y1="710.90" x2="494.61" y2="712.40" stroke="#b0b4bc" stroke-width="0.6" />
<line x1="534.39" y1="710.90" x2="534.39" y2="712.40" stroke="#b0b4bc" stroke-width="0.6" />
<line x1="574.16" y1="710.90" x2="574.16" y2="712.40" stroke="#b0b4bc" stroke-width="0.6" />
<line x1="613.94" y1="710.90" x2="613.94" y2="712.40" stroke="#b0b4bc" stroke-width="0.6" />
<line x1="653.71" y1="710.90" x2="653.71" y2="712.40" stroke="#b0b4bc" stroke-width="0.6" />
<text x="355.40" y="705.20" font-size="6.8" font-family='"Liberation Sans", sans-serif' fill="#333" text-anchor="middle" textLength="8.166374999999999" lengthAdjust="spacingAndGlyphs">-150</text>
<text x="395.17" y="705.20" font-size="6.8" font-family='"Liberation Sans", sans-serif' fill="#333" text-anchor="middle" textLength="8.166374999999999" lengthAdjust="spacingAndGlyphs">-100</text>
<text x="434.95" y="705.20" font-size="6.8" font-family='"Liberation Sans", sans-serif' fill="#333" text-anchor="middle" textLength="5.89719375" lengthAdjust="spacingAndGlyphs">-50</text>
<text x="474.73" y="705.20" font-size="6.8" font-family='"Liberation Sans", sans-serif' fill="#333" text-anchor="middle" textLength="2.26918125" lengthAdjust="spacingAndGlyphs">0</text>
<text x="514.50" y="705.20" font-size="6.8" font-family='"Liberation Sans", sans-serif' fill="#333" text-anchor="middle" textLength="4.5383625" lengthAdjust="spacingAndGlyphs">50</text>
<text x="554.27" y="705.20" font-size="6.8" font-family='"Liberation Sans", sans-serif' fill="#333" text-anchor="middle" textLength="6.807543749999999" lengthAdjust="spacingAndGlyphs">100</text>
<text x="594.05" y="705.20" font-size="6.8" font-family='"Liberation Sans", sans-serif' fill="#333" text-anchor="middle" textLength="6.807543749999999" lengthAdjust="spacingAndGlyphs">150</text>
<text x="633.83" y="705.20" font-size="6.8" font-family='"Liberation Sans", sans-serif' fill="#333" text-anchor="middle" textLength="6.807543749999999" lengthAdjust="spacingAndGlyphs">200</text>
<text x="673.60" y="705.20" font-size="6.8" font-family='"Liberation Sans", sans-serif' fill="#333" text-anchor="middle" textLength="6.807543749999999" lengthAdjust="spacingAndGlyphs">250</text>
<text x="514.30" y="697.00" font-size="5.6" font-family='"Liberation Sans", sans-serif' fill="#333" text-anchor="middle" textLength="26" lengthAdjust="spacingAndGlyphs">Frequency (Hz)</text>
<text x="352.20" y="715.80" font-size="6.8" font-family='"Liberation Sans", sans-serif' fill="#333" text-anchor="end" textLength="4.5383625" lengthAdjust="spacingAndGlyphs">30</text>
<line x1="353.60" y1="713.60" x2="355.40" y2="713.60" stroke="#999" stroke-width="0.6" />
<text x="352.20" y="775.80" font-size="6.8" font-family='"Liberation Sans", sans-serif' fill="#333" text-anchor="end" textLength="4.5383625" lengthAdjust="spacingAndGlyphs">20</text>
<line x1="353.60" y1="773.60" x2="355.40" y2="773.60" stroke="#999" stroke-width="0.6" />
<text x="352.20" y="835.90" font-size="6.8" font-family='"Liberation Sans", sans-serif' fill="#333" text-anchor="end" textLength="4.5383625" lengthAdjust="spacingAndGlyphs">10</text>
<line x1="353.60" y1="833.70" x2="355.40" y2="833.70" stroke="#999" stroke-width="0.6" />
<text x="352.20" y="895.90" font-size="6.8" font-family='"Liberation Sans", sans-serif' fill="#333" text-anchor="end" textLength="2.26918125" lengthAdjust="spacingAndGlyphs">0</text>
<line x1="353.60" y1="893.70" x2="355.40" y2="893.70" stroke="#999" stroke-width="0.6" />
<line x1="355.40" y1="893.70" x2="673.60" y2="893.70" stroke="#d0d0d0" stroke-width="0.9" />
<text x="377.20" y="909.80" font-size="6.8" font-family='"Liberation Sans", sans-serif' fill="#333" text-anchor="middle" textLength="10.210199999999999" lengthAdjust="spacingAndGlyphs">200.0</text>
<line x1="377.20" y1="899.40" x2="377.20" y2="901.40" stroke="#999" stroke-width="0.6" />
<text x="474.20" y="909.80" font-size="6.8" font-family='"Liberation Sans", sans-serif' fill="#333" text-anchor="middle" textLength="5.6718375" lengthAdjust="spacingAndGlyphs">0.0</text>
<line x1="474.20" y1="899.40" x2="474.20" y2="901.40" stroke="#999" stroke-width="0.6" />
<text x="572.00" y="909.80" font-size="6.8" font-family='"Liberation Sans", sans-serif' fill="#333" text-anchor="middle" textLength="11.56903125" lengthAdjust="spacingAndGlyphs">-200.0</text>
<line x1="572.00" y1="899.40" x2="572.00" y2="901.40" stroke="#999" stroke-width="0.6" />
<text x="667.00" y="909.80" font-size="6.8" font-family='"Liberation Sans", sans-serif' fill="#333" text-anchor="middle" textLength="11.56903125" lengthAdjust="spacingAndGlyphs">-400.0</text>
<line x1="667.00" y1="899.40" x2="667.00" y2="901.40" stroke="#999" stroke-width="0.6" />
<text x="515.00" y="918.60" font-size="5.6" font-family='"Liberation Sans", sans-serif' fill="#333" text-anchor="middle" textLength="29" lengthAdjust="spacingAndGlyphs">Zeta Potential (mV)</text>
<text x="343.80" y="800.00" font-size="5.2" font-family='"Liberation Sans", sans-serif' fill="#333" text-anchor="middle" textLength="15" lengthAdjust="spacingAndGlyphs" transform="rotate(-90 343.80 800.00)">Intensity</text>
<polygon points="462.30,890.80 462.30,890.80 463.08,890.51 463.86,890.20 464.64,889.85 465.43,889.46 466.21,889.03 466.99,888.55 467.77,888.01 468.55,887.41 469.34,886.72 470.12,885.95 470.90,885.07 471.68,884.06 472.46,882.89 473.24,881.55 474.02,879.98 474.81,878.15 475.59,876.00 476.37,873.46 477.15,870.44 477.93,866.84 478.72,862.54 479.50,857.42 480.28,851.35 481.06,844.27 481.84,836.22 482.62,827.47 483.40,818.68 484.19,810.93 484.97,805.57 485.75,803.81 486.53,805.78 487.31,810.85 488.10,818.02 488.88,826.18 489.66,834.43 490.44,842.18 491.22,849.12 492.00,855.18 492.78,860.39 493.57,864.82 494.35,868.58 495.13,871.77 495.91,874.48 496.69,876.80 497.48,878.78 498.26,880.49 499.04,881.96 499.82,883.24 500.60,884.36 501.38,885.34 502.16,886.21 502.95,886.97 503.73,887.65 504.51,888.25 505.29,888.80 506.07,889.28 506.86,889.72 507.64,890.12 508.42,890.47 509.20,890.80 509.20,890.80" fill="#fb6448"/>
<polyline points="372.80,880.20 374.00,874.00 375.90,869.40 377.50,872.00 379.00,880.00 380.50,886.00 382.00,888.50 383.50,887.00 385.00,889.50 387.50,894.00 390.00,893.00 395.00,892.60 420.00,892.30 450.00,892.00 462.00,891.30 468.00,892.00 472.00,894.00 474.00,893.00 475.20,890.80 476.50,885.00 478.00,872.00 479.50,856.00 481.00,838.00 482.60,822.00 484.20,814.00 485.70,812.40 487.20,814.00 488.80,822.00 490.40,838.00 492.00,856.00 493.50,872.00 495.00,885.00 496.30,890.50 499.00,891.00 503.00,890.20 510.00,891.00 530.00,891.80 560.00,892.30 620.00,892.80 673.60,893.20" fill="none" stroke="#5b7fc4" stroke-width="1.1" stroke-linejoin="round"/>
<line x1="485.80" y1="712.40" x2="485.80" y2="899.40" stroke="#eaa6f2" stroke-width="1.6" />
<rect x="485.70" y="791.20" width="4.50" height="9.70" fill="#f00000" stroke="#500" stroke-width="0.6"/>
<text x="485.30" y="888.00" font-size="5.2" font-family='"Liberation Sans", sans-serif' fill="#222" text-anchor="middle" textLength="15" lengthAdjust="spacingAndGlyphs" transform="rotate(-90 485.30 888.00)">-23.23</text>
<text x="360.00" y="725.00" font-size="11.8" font-family='"Liberation Sans", sans-serif' fill="#111" font-weight="bold" textLength="36" lengthAdjust="spacingAndGlyphs">NIO 17</text>
</svg>
</body></html>
